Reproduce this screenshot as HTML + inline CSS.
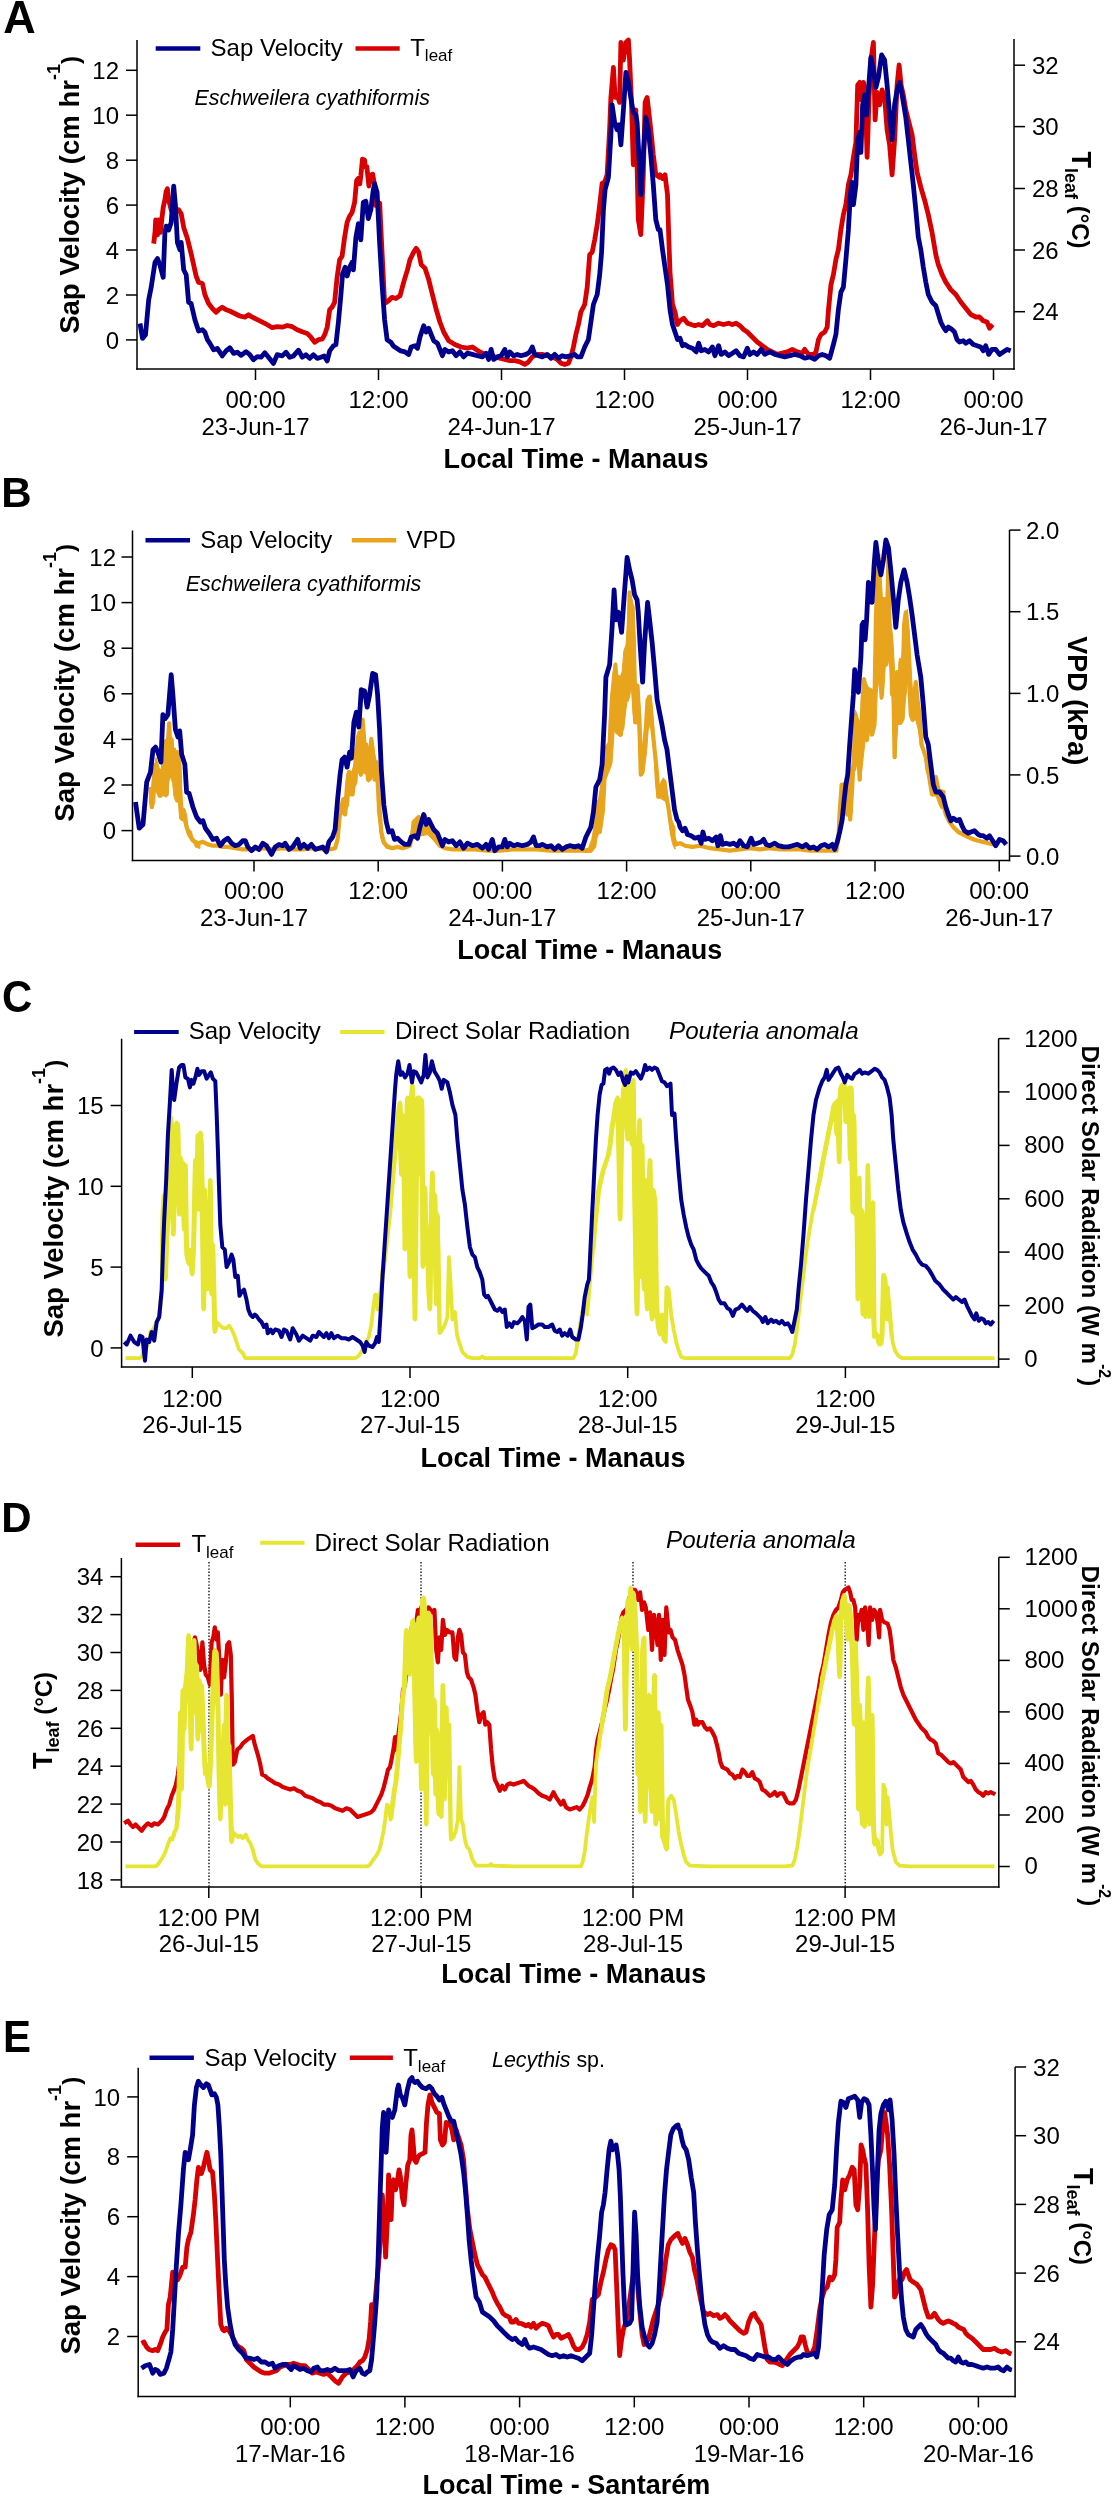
<!DOCTYPE html>
<html><head><meta charset="utf-8"><style>
html,body{margin:0;padding:0;background:#fff;}
svg{display:block;will-change:transform;}
text{font-family:"Liberation Sans", sans-serif;fill:#000;}
</style></head><body>
<svg width="1114" height="2500" viewBox="0 0 1114 2500">
<rect width="1114" height="2500" fill="#fff"/>
<text transform="translate(3.2,32.7) scale(1.07,1.08)" font-size="42" font-weight="bold">A</text>
<line x1="137" y1="40" x2="137" y2="369.75" stroke="#000" stroke-width="1.5"/>
<line x1="1014" y1="39" x2="1014" y2="369.75" stroke="#000" stroke-width="1.5"/>
<line x1="136.25" y1="369" x2="1014.75" y2="369" stroke="#000" stroke-width="1.5"/>
<line x1="126" y1="70.3" x2="137" y2="70.3" stroke="#000" stroke-width="1.5"/>
<text x="119" y="78.9" font-size="24" text-anchor="end">12</text>
<line x1="126" y1="115.2" x2="137" y2="115.2" stroke="#000" stroke-width="1.5"/>
<text x="119" y="123.8" font-size="24" text-anchor="end">10</text>
<line x1="126" y1="160.2" x2="137" y2="160.2" stroke="#000" stroke-width="1.5"/>
<text x="119" y="168.8" font-size="24" text-anchor="end">8</text>
<line x1="126" y1="205.1" x2="137" y2="205.1" stroke="#000" stroke-width="1.5"/>
<text x="119" y="213.7" font-size="24" text-anchor="end">6</text>
<line x1="126" y1="250" x2="137" y2="250" stroke="#000" stroke-width="1.5"/>
<text x="119" y="258.6" font-size="24" text-anchor="end">4</text>
<line x1="126" y1="295" x2="137" y2="295" stroke="#000" stroke-width="1.5"/>
<text x="119" y="303.6" font-size="24" text-anchor="end">2</text>
<line x1="126" y1="339.9" x2="137" y2="339.9" stroke="#000" stroke-width="1.5"/>
<text x="119" y="348.5" font-size="24" text-anchor="end">0</text>
<line x1="1014" y1="65.2" x2="1025" y2="65.2" stroke="#000" stroke-width="1.5"/>
<text x="1032" y="73.8" font-size="24">32</text>
<line x1="1014" y1="126.6" x2="1025" y2="126.6" stroke="#000" stroke-width="1.5"/>
<text x="1032" y="135.2" font-size="24">30</text>
<line x1="1014" y1="188.5" x2="1025" y2="188.5" stroke="#000" stroke-width="1.5"/>
<text x="1032" y="197.1" font-size="24">28</text>
<line x1="1014" y1="250" x2="1025" y2="250" stroke="#000" stroke-width="1.5"/>
<text x="1032" y="258.6" font-size="24">26</text>
<line x1="1014" y1="311.7" x2="1025" y2="311.7" stroke="#000" stroke-width="1.5"/>
<text x="1032" y="320.3" font-size="24">24</text>
<line x1="255.5" y1="369" x2="255.5" y2="380" stroke="#000" stroke-width="1.5"/>
<text x="255.5" y="408" font-size="24" text-anchor="middle">00:00</text>
<text x="255.5" y="435" font-size="24" text-anchor="middle">23-Jun-17</text>
<line x1="378.5" y1="369" x2="378.5" y2="380" stroke="#000" stroke-width="1.5"/>
<text x="378.5" y="408" font-size="24" text-anchor="middle">12:00</text>
<line x1="501.5" y1="369" x2="501.5" y2="380" stroke="#000" stroke-width="1.5"/>
<text x="501.5" y="408" font-size="24" text-anchor="middle">00:00</text>
<text x="501.5" y="435" font-size="24" text-anchor="middle">24-Jun-17</text>
<line x1="624.5" y1="369" x2="624.5" y2="380" stroke="#000" stroke-width="1.5"/>
<text x="624.5" y="408" font-size="24" text-anchor="middle">12:00</text>
<line x1="747.5" y1="369" x2="747.5" y2="380" stroke="#000" stroke-width="1.5"/>
<text x="747.5" y="408" font-size="24" text-anchor="middle">00:00</text>
<text x="747.5" y="435" font-size="24" text-anchor="middle">25-Jun-17</text>
<line x1="870.5" y1="369" x2="870.5" y2="380" stroke="#000" stroke-width="1.5"/>
<text x="870.5" y="408" font-size="24" text-anchor="middle">12:00</text>
<line x1="993.5" y1="369" x2="993.5" y2="380" stroke="#000" stroke-width="1.5"/>
<text x="993.5" y="408" font-size="24" text-anchor="middle">00:00</text>
<text x="993.5" y="435" font-size="24" text-anchor="middle">26-Jun-17</text>
<text x="576" y="468" font-size="27" font-weight="bold" text-anchor="middle">Local Time - Manaus</text>
<text transform="translate(78.9,333.8) rotate(-90)" font-size="27.5" font-weight="bold">Sap Velocity (cm hr<tspan dy="-18.8" font-size="18">-1</tspan><tspan dy="18.8" font-size="24">)</tspan></text>
<text transform="translate(1071.6,151.5) rotate(90)" font-size="27" font-weight="bold">T<tspan dy="6.7" font-size="18">leaf</tspan><tspan dy="-6.7" font-size="24"> (°C)</tspan></text>
<line x1="155.7" y1="48.5" x2="200.3" y2="48.5" stroke="#00008c" stroke-width="4.5"/>
<text x="210.6" y="56" font-size="24">Sap Velocity</text>
<line x1="355.5" y1="48.5" x2="399.7" y2="48.5" stroke="#d80000" stroke-width="4.5"/>
<text x="410.2" y="55.5" font-size="24">T<tspan dy="5.9" font-size="17">leaf</tspan></text>
<text x="194.5" y="104.5" font-size="21.4" font-style="italic">Eschweilera cyathiformis</text>
<polyline points="153.7,243.6 155.0,232.4 155.7,219.9 157.5,234.9 158.7,219.9 160.4,232.4 161.9,218.6 163.2,207.4 164.9,199.9 166.2,191.2 167.4,188.7 168.7,199.9 171.2,209.9 174.9,208.7 178.7,209.9 181.2,213.7 183.7,227.4 187.4,238.6 191.1,253.6 193.6,264.8 196.1,276.0 198.6,282.3 202.4,283.5 204.9,294.8 208.6,303.5 212.4,308.5 216.1,312.2 218.6,309.7 222.3,307.2 226.1,309.7 229.8,311.0 234.8,313.5 239.8,316.0 244.8,317.2 248.5,314.7 252.3,317.2 257.3,319.7 262.3,322.2 267.3,324.7 272.3,327.7 277.2,326.7 282.2,327.2 287.2,325.5 292.2,326.7 297.2,329.7 302.2,331.7 307.2,333.4 310.9,337.2 314.7,342.2 318.4,339.7 322.2,339.2 324.7,334.7 327.2,327.2 329.7,309.7 332.1,307.2 334.6,302.3 337.1,277.3 339.6,259.8 342.1,256.1 344.6,237.4 347.1,222.4 349.6,216.2 352.1,212.4 354.6,202.4 356.6,180.6 358.2,178.5 359.8,183.9 360.9,175.2 362.5,159.1 364.6,160.2 365.2,166.6 366.8,166.6 368.9,186.0 370.6,175.2 372.7,174.2 374.3,183.9 375.4,205.4 379.7,203.3 380.8,227.0 384.6,303.5 388.3,301.0 392.0,297.3 395.8,298.5 399.5,296.0 400.0,295.8 403.7,282.1 407.5,269.6 410.0,259.6 413.7,252.1 416.2,248.4 418.7,252.1 421.2,264.6 425.0,268.3 428.7,279.6 432.4,294.5 436.2,309.5 439.9,322.0 443.7,332.0 448.7,340.7 454.9,344.5 461.1,347.0 467.4,348.2 472.4,347.0 476.1,349.4 479.9,351.9 484.9,354.4 489.8,355.7 494.8,356.9 499.8,358.2 504.8,359.4 509.8,360.7 514.8,360.7 519.8,361.9 524.8,364.4 528.5,361.9 532.3,356.9 537.3,354.4 542.3,354.4 547.2,355.7 552.2,356.9 557.2,359.4 561.0,363.2 564.7,364.4 568.5,363.2 571.0,356.9 573.4,347.0 575.9,334.5 578.4,324.5 580.9,312.0 584.7,304.5 587.2,287.1 589.7,254.6 592.2,252.1 594.7,239.6 597.2,224.7 599.7,204.7 602.1,183.5 604.6,182.2 607.1,174.8 609.6,129.8 610.9,97.4 613.4,67.4 615.1,97.4 617.1,94.9 619.6,102.4 620.9,42.5 623.4,60.0 625.9,42.5 628.4,40.0 629.6,60.0 631.6,104.9 633.3,164.8 635.8,109.9 638.3,219.7 640.8,234.7 643.3,174.8 645.1,102.4 647.1,97.4 648.3,107.4 650.8,129.8 653.3,154.8 655.8,174.8 659.5,177.3 660.0,174.8 662.5,178.5 665.0,174.8 667.5,194.7 668.7,234.7 670.0,272.1 672.5,304.5 675.0,312.0 677.5,324.5 680.0,320.7 683.7,318.3 687.5,323.2 691.2,324.5 694.9,325.7 698.7,324.5 702.4,325.7 707.4,320.7 709.9,324.5 713.7,325.7 718.6,323.2 723.6,324.5 728.6,323.2 732.4,324.5 736.1,323.2 739.9,325.7 743.6,329.5 747.3,332.0 752.3,337.0 757.3,342.0 762.3,345.7 767.3,349.4 772.3,351.9 777.3,354.4 782.3,353.2 787.3,351.9 792.3,349.4 797.3,351.9 802.3,353.2 804.7,349.4 808.5,354.4 813.5,354.4 816.0,351.9 818.5,339.5 821.0,334.5 824.7,332.0 827.2,327.0 828.5,309.5 831.0,284.6 833.4,274.6 835.9,259.6 838.4,249.6 840.9,229.7 843.4,214.7 845.9,204.7 848.4,184.7 850.9,174.8 853.4,157.3 855.9,142.3 857.7,84.9 859.7,82.4 861.6,99.9 863.4,82.4 865.1,89.9 867.1,157.3 869.1,97.4 870.9,60.0 873.4,42.5 875.1,119.9 877.1,92.4 879.6,104.9 882.1,89.9 884.6,97.4 887.1,129.8 889.6,144.8 892.1,174.8 894.6,139.8 897.1,84.9 899.1,64.9 901.1,84.9 903.3,94.9 905.8,109.9 908.3,119.9 912.1,134.8 914.6,154.8 917.1,172.3 920.8,187.2 924.5,199.7 928.3,214.7 932.0,232.2 935.8,254.6 938.3,264.6 942.1,274.6 945.8,282.1 950.8,289.6 955.8,294.5 960.8,302.0 965.8,308.3 970.8,314.5 975.8,317.0 979.5,317.0 983.2,320.7 987.0,322.0 989.5,328.2 992.7,324.5" fill="none" stroke="#d80000" stroke-width="4.8" stroke-linejoin="round" stroke-linecap="butt"/>
<polyline points="140.0,323.5 142.5,338.4 145.5,334.7 148.7,299.8 151.2,287.3 155.0,262.3 157.5,258.6 159.9,264.8 163.2,277.3 164.9,232.4 166.2,226.1 168.7,229.9 171.2,222.4 173.7,186.2 175.4,204.9 177.4,242.4 179.9,249.8 181.2,242.4 183.7,269.8 186.2,274.8 188.6,302.3 191.1,303.5 194.9,319.7 198.6,331.0 202.4,329.7 204.9,332.2 207.4,339.7 209.9,343.4 213.6,349.7 217.3,348.4 222.3,355.9 226.1,350.9 229.8,347.7 233.6,353.4 237.3,352.2 241.1,355.4 246.0,351.7 249.8,354.7 253.5,359.7 257.3,356.7 261.0,357.2 264.8,352.7 268.5,357.2 273.5,363.4 277.2,354.7 282.2,355.9 286.0,352.2 289.7,357.2 293.5,355.9 298.5,350.2 302.2,357.2 305.9,354.7 309.7,358.4 313.4,354.7 317.2,358.4 320.9,357.2 324.2,355.9 327.2,360.9 329.7,350.9 333.4,345.9 335.9,344.7 338.4,322.2 340.9,294.8 342.6,273.6 345.1,267.3 347.1,276.0 349.6,267.3 352.1,262.3 353.4,269.8 355.9,237.4 358.4,223.6 360.8,239.9 363.3,202.4 365.8,201.2 368.3,218.6 370.8,209.9 373.3,189.9 374.6,183.7 377.1,192.4 379.6,242.4 382.1,284.8 384.6,319.7 387.1,339.7 390.8,342.2 393.3,345.9 397.0,348.4 400.8,350.9 405.0,351.9 408.7,354.4 411.2,347.0 415.0,345.7 417.5,348.2 420.0,337.0 423.7,325.7 426.2,332.0 428.7,328.2 431.2,334.5 433.7,340.7 437.4,343.2 439.9,349.4 442.4,355.7 444.9,349.4 448.7,351.9 452.4,350.7 456.2,355.7 459.9,351.9 463.6,356.9 467.4,353.2 472.4,354.4 477.4,355.7 482.4,356.9 486.1,353.2 488.6,359.4 491.1,349.4 493.6,359.4 497.3,356.9 501.1,355.7 504.8,349.4 507.3,356.9 509.8,351.9 513.6,355.7 517.3,354.4 521.0,355.7 526.0,354.4 529.8,351.9 532.3,347.0 534.8,354.4 538.5,355.7 542.3,356.9 547.2,354.4 551.0,358.2 554.7,354.4 558.5,358.2 562.2,355.7 566.0,356.9 571.0,355.7 574.7,354.4 577.2,356.9 580.9,356.9 584.7,347.0 588.4,339.5 590.9,322.0 593.4,304.5 597.2,294.5 599.7,274.6 601.6,252.1 603.4,209.7 605.1,189.7 608.4,177.3 610.9,134.8 612.1,104.9 614.6,122.3 617.1,129.8 619.1,124.8 620.9,144.8 623.4,109.9 625.9,72.4 628.4,82.4 630.8,97.4 633.3,112.4 635.8,114.9 637.1,122.3 639.1,159.8 640.8,194.7 643.3,154.8 645.8,117.4 648.3,129.8 650.8,154.8 653.3,184.7 655.8,219.7 658.3,229.7 660.0,229.7 662.5,249.6 665.0,267.1 667.5,284.6 670.0,309.5 672.5,324.5 675.0,332.0 677.5,339.5 680.0,338.2 682.5,345.7 685.0,344.5 688.7,347.0 692.4,348.2 696.2,351.9 698.7,343.2 701.2,350.7 704.9,349.4 708.7,351.9 712.4,347.0 714.9,355.7 718.6,345.7 721.1,354.4 724.9,351.9 728.6,355.7 732.4,353.2 736.1,350.7 739.9,355.7 743.6,356.9 747.3,348.2 749.8,354.4 753.6,351.9 757.3,354.4 761.1,349.4 764.8,354.4 769.8,351.9 774.8,354.4 779.8,355.7 784.8,356.9 789.8,355.7 794.8,354.4 799.8,355.7 804.7,358.2 809.7,356.9 814.7,359.4 818.5,355.7 822.2,354.4 826.0,355.7 829.7,358.2 833.4,344.5 835.9,334.5 838.4,309.5 840.9,292.1 843.4,287.1 845.9,259.6 848.4,229.7 850.2,197.2 851.7,182.2 853.4,204.7 855.9,184.7 857.7,139.8 859.7,132.3 860.9,152.3 862.6,104.9 864.6,94.9 866.6,114.9 868.4,89.9 870.9,57.5 873.4,69.9 875.9,87.4 878.4,77.4 881.6,55.0 884.6,60.0 887.1,84.9 889.6,114.9 892.1,139.8 894.6,104.9 897.1,89.9 899.6,82.4 902.1,94.9 905.8,117.4 908.3,139.8 910.8,162.3 913.3,184.7 915.8,209.7 918.3,237.1 920.8,249.6 923.3,267.1 925.8,282.1 928.3,294.5 932.0,302.0 935.8,305.8 940.8,322.0 943.3,327.0 945.8,330.7 948.3,327.0 952.0,329.5 954.5,332.0 957.0,339.5 959.5,342.0 963.3,340.7 965.8,343.2 969.5,340.7 973.3,344.5 977.0,345.7 980.7,347.0 983.2,350.7 985.7,345.7 988.7,354.4 992.0,349.4 995.7,349.4 999.5,354.4 1003.2,351.9 1007.0,349.4 1010.7,350.7" fill="none" stroke="#00008c" stroke-width="4.8" stroke-linejoin="round" stroke-linecap="butt"/>
<text transform="translate(1.3,507) scale(1.0,1.0)" font-size="42" font-weight="bold">B</text>
<line x1="132.5" y1="530.6" x2="132.5" y2="861.35" stroke="#000" stroke-width="1.5"/>
<line x1="1009.5" y1="530.1" x2="1009.5" y2="861.35" stroke="#000" stroke-width="1.5"/>
<line x1="131.75" y1="860.6" x2="1010.25" y2="860.6" stroke="#000" stroke-width="1.5"/>
<line x1="121.5" y1="557" x2="132.5" y2="557" stroke="#000" stroke-width="1.5"/>
<text x="116.0" y="565.6" font-size="24" text-anchor="end">12</text>
<line x1="121.5" y1="602.6" x2="132.5" y2="602.6" stroke="#000" stroke-width="1.5"/>
<text x="116.0" y="611.2" font-size="24" text-anchor="end">10</text>
<line x1="121.5" y1="648.2" x2="132.5" y2="648.2" stroke="#000" stroke-width="1.5"/>
<text x="116.0" y="656.8" font-size="24" text-anchor="end">8</text>
<line x1="121.5" y1="693.8" x2="132.5" y2="693.8" stroke="#000" stroke-width="1.5"/>
<text x="116.0" y="702.4" font-size="24" text-anchor="end">6</text>
<line x1="121.5" y1="739.4" x2="132.5" y2="739.4" stroke="#000" stroke-width="1.5"/>
<text x="116.0" y="748.0" font-size="24" text-anchor="end">4</text>
<line x1="121.5" y1="785" x2="132.5" y2="785" stroke="#000" stroke-width="1.5"/>
<text x="116.0" y="793.6" font-size="24" text-anchor="end">2</text>
<line x1="121.5" y1="830.6" x2="132.5" y2="830.6" stroke="#000" stroke-width="1.5"/>
<text x="116.0" y="839.2" font-size="24" text-anchor="end">0</text>
<line x1="1009.5" y1="530.1" x2="1020.5" y2="530.1" stroke="#000" stroke-width="1.5"/>
<text x="1026.0" y="538.7" font-size="24">2.0</text>
<line x1="1009.5" y1="611.7" x2="1020.5" y2="611.7" stroke="#000" stroke-width="1.5"/>
<text x="1026.0" y="620.3" font-size="24">1.5</text>
<line x1="1009.5" y1="693.4" x2="1020.5" y2="693.4" stroke="#000" stroke-width="1.5"/>
<text x="1026.0" y="702.0" font-size="24">1.0</text>
<line x1="1009.5" y1="774.9" x2="1020.5" y2="774.9" stroke="#000" stroke-width="1.5"/>
<text x="1026.0" y="783.5" font-size="24">0.5</text>
<line x1="1009.5" y1="856.1" x2="1020.5" y2="856.1" stroke="#000" stroke-width="1.5"/>
<text x="1026.0" y="864.7" font-size="24">0.0</text>
<line x1="254" y1="860.6" x2="254" y2="871.6" stroke="#000" stroke-width="1.5"/>
<text x="254" y="898.6" font-size="24" text-anchor="middle">00:00</text>
<text x="254" y="925.9" font-size="24" text-anchor="middle">23-Jun-17</text>
<line x1="378.2" y1="860.6" x2="378.2" y2="871.6" stroke="#000" stroke-width="1.5"/>
<text x="378.2" y="898.6" font-size="24" text-anchor="middle">12:00</text>
<line x1="502.4" y1="860.6" x2="502.4" y2="871.6" stroke="#000" stroke-width="1.5"/>
<text x="502.4" y="898.6" font-size="24" text-anchor="middle">00:00</text>
<text x="502.4" y="925.9" font-size="24" text-anchor="middle">24-Jun-17</text>
<line x1="626.6" y1="860.6" x2="626.6" y2="871.6" stroke="#000" stroke-width="1.5"/>
<text x="626.6" y="898.6" font-size="24" text-anchor="middle">12:00</text>
<line x1="750.8" y1="860.6" x2="750.8" y2="871.6" stroke="#000" stroke-width="1.5"/>
<text x="750.8" y="898.6" font-size="24" text-anchor="middle">00:00</text>
<text x="750.8" y="925.9" font-size="24" text-anchor="middle">25-Jun-17</text>
<line x1="875" y1="860.6" x2="875" y2="871.6" stroke="#000" stroke-width="1.5"/>
<text x="875" y="898.6" font-size="24" text-anchor="middle">12:00</text>
<line x1="999.2" y1="860.6" x2="999.2" y2="871.6" stroke="#000" stroke-width="1.5"/>
<text x="999.2" y="898.6" font-size="24" text-anchor="middle">00:00</text>
<text x="999.2" y="925.9" font-size="24" text-anchor="middle">26-Jun-17</text>
<text x="589.7" y="959" font-size="27" font-weight="bold" text-anchor="middle">Local Time - Manaus</text>
<text transform="translate(74.4,821.7) rotate(-90)" font-size="27.5" font-weight="bold">Sap Velocity (cm hr<tspan dy="-18.8" font-size="18">-1</tspan><tspan dy="18.8" font-size="24">)</tspan></text>
<text transform="translate(1068.2,636.2) rotate(90)" font-size="27" font-weight="bold">VPD (kPa)</text>
<line x1="145.5" y1="540.3" x2="190" y2="540.3" stroke="#00008c" stroke-width="4.5"/>
<text x="200.2" y="547.5" font-size="24">Sap Velocity</text>
<line x1="351.8" y1="540.3" x2="396.2" y2="540.3" stroke="#e8a41c" stroke-width="4.5"/>
<text x="406.4" y="547.5" font-size="24">VPD</text>
<text x="185.8" y="590.5" font-size="21.4" font-style="italic">Eschweilera cyathiformis</text>
<polygon points="149.6,788.3 151.8,786.4 152.8,772.3 154.7,767.2 156.0,757.6 159.2,767.8 161.1,770.4 164.3,741.0 165.6,739.0 167.5,738.4 168.8,723.7 170.1,725.6 171.4,741.0 173.3,744.8 174.6,770.4 176.5,773.6 177.4,752.5 179.0,756.3 181.0,764.0 181.6,783.2 182.2,807.5 184.8,808.8 186.7,815.2 188.0,828.0 189.3,829.3 191.2,831.2 193.1,837.6 195.7,840.8 200.0,842.7 200.0,848.5 195.7,847.2 192.5,840.8 190.6,834.4 187.4,833.1 186.1,824.8 185.4,819.7 182.2,821.0 179.7,819.0 178.4,802.4 175.8,801.8 173.9,796.0 172.6,783.2 171.4,779.4 170.1,776.8 168.8,781.9 168.2,792.8 166.2,797.3 164.3,796.0 162.4,796.0 161.8,776.8 160.5,796.0 158.6,797.3 156.6,792.8 155.4,789.6 154.7,802.4 152.8,808.8 150.9,807.5 149.6,802.4" fill="#e8a41c" stroke="#e8a41c" stroke-width="1" stroke-linejoin="round"/>
<polygon points="340.9,814.8 342.2,798.8 345.4,795.6 346.6,774.5 349.8,770.6 351.8,771.9 354.3,763.6 356.2,738.0 358.2,731.0 360.7,731.0 363.3,719.4 365.2,734.8 366.5,747.6 369.0,748.9 370.3,737.4 372.2,737.4 374.2,750.8 376.1,760.4 377.4,779.6 378.0,798.8 379.3,818.0 380.6,830.8 383.1,840.4 385.7,843.6 390.0,845.5 390.0,848.7 385.7,847.4 382.5,843.6 380.6,837.2 379.3,824.4 377.4,811.6 376.7,779.6 374.8,779.6 373.5,773.2 371.6,779.6 368.4,782.2 366.5,779.6 365.2,760.4 363.9,760.4 362.6,774.5 360.7,776.4 359.4,773.2 357.5,773.2 356.9,782.8 355.6,786.0 353.7,784.7 352.4,787.3 351.8,793.7 350.5,796.2 349.2,795.0 348.6,805.2 347.3,808.4 345.4,813.5 343.4,814.8 341.5,813.5" fill="#e8a41c" stroke="#e8a41c" stroke-width="1" stroke-linejoin="round"/>
<polygon points="411.2,832.0 413.7,820.7 417.5,817.0 421.2,818.2 425.0,814.5 428.7,822.0 432.4,828.2 436.2,839.4 439.9,845.7 439.9,848.2 432.4,839.4 427.5,834.5 422.5,835.7 417.5,835.7 413.7,839.4 411.2,843.2" fill="#e8a41c" stroke="#e8a41c" stroke-width="1" stroke-linejoin="round"/>
<polygon points="585.0,851.4 591.5,848.1 595.8,827.6 596.9,800.6 600.1,798.4 602.3,784.4 604.4,762.8 606.6,744.4 609.3,741.2 610.4,698.0 613.1,671.0 615.8,662.4 617.9,675.3 621.7,676.4 623.9,650.5 626.0,645.1 627.7,622.4 629.8,599.7 631.4,596.5 633.6,606.2 635.2,635.4 636.3,682.9 639.0,685.0 640.6,714.2 642.0,760.6 643.9,746.6 646.0,714.2 647.6,695.8 650.9,694.8 652.5,708.8 654.1,730.4 655.2,762.8 657.4,784.4 660.6,784.4 663.3,777.9 666.0,781.2 668.2,800.6 670.3,816.8 675.0,827.6 675.0,849.2 672.5,843.8 670.3,833.0 668.2,811.4 666.0,801.7 660.6,798.4 656.8,795.2 655.2,779.0 654.1,752.0 652.5,726.1 649.8,725.0 648.2,730.4 646.6,752.0 644.4,768.2 642.2,775.8 640.6,762.8 639.0,741.2 637.9,723.9 634.7,723.9 633.1,714.2 631.4,687.2 629.3,698.0 627.7,698.0 626.0,708.8 623.9,728.2 620.6,736.9 617.4,734.7 614.2,730.4 612.0,762.8 610.4,768.2 608.2,773.6 606.1,779.0 604.4,811.4 601.2,833.0 598.5,834.1 596.9,838.4 595.8,847.0 591.5,852.4 585.0,852.4" fill="#e8a41c" stroke="#e8a41c" stroke-width="1" stroke-linejoin="round"/>
<polygon points="837.6,852.3 840.1,815.2 842.7,783.2 846.5,780.6 849.1,770.4 852.9,764.0 855.5,710.2 859.3,721.8 861.9,716.6 863.8,677.0 868.3,687.2 873.4,689.8 874.7,655.2 876.0,604.0 877.2,581.0 879.8,554.1 882.4,597.6 886.2,597.6 887.5,552.8 888.8,584.8 890.0,616.8 892.6,636.0 895.2,680.8 897.7,719.2 899.0,661.6 901.6,660.3 904.1,623.2 907.3,609.1 909.2,629.6 911.8,680.8 913.7,706.4 915.6,680.8 918.2,700.0 920.1,738.4 923.3,744.8 925.9,770.4 929.7,783.2 934.8,789.6 937.4,790.9 941.2,789.6 945.0,790.9 945.0,803.7 941.2,808.8 938.7,803.7 936.1,796.0 932.3,796.0 929.7,787.0 927.2,770.4 923.3,749.9 920.8,747.4 918.2,729.4 915.6,719.2 913.1,721.8 910.5,700.0 908.0,678.2 905.4,700.0 904.1,719.2 901.6,724.3 899.0,724.3 897.7,725.6 895.8,757.6 893.9,732.0 892.0,693.6 890.0,668.0 887.5,657.8 885.6,661.6 883.6,693.6 881.1,700.0 878.5,680.8 877.2,693.6 876.0,725.6 873.4,735.8 871.5,732.0 869.6,725.6 867.0,742.2 865.1,741.0 863.2,757.6 860.6,780.6 858.0,757.6 855.5,770.4 852.9,770.4 851.6,783.2 852.3,812.6 849.7,816.5 846.5,808.8 844.0,802.4 840.1,828.0 837.6,852.3" fill="#e8a41c" stroke="#e8a41c" stroke-width="1" stroke-linejoin="round"/>
<polyline points="150.5,787.0 151.7,807.0 154.2,777.1 155.5,764.6 156.7,789.5 159.2,774.6 160.4,795.8 162.9,769.6 164.9,757.1 166.7,794.5 167.9,742.1 169.2,723.4 170.4,762.1 171.7,739.6 172.9,774.6 174.2,749.6 175.9,787.0 177.9,752.1 179.2,777.1 180.4,797.0 181.7,812.0 184.2,817.0 186.6,827.0 189.1,834.5 192.9,840.7 197.9,843.2 202.9,841.9 207.9,844.4 212.9,845.7 217.8,845.7 222.8,846.9 227.8,846.9 235.3,848.2 242.8,849.4 252.8,849.4 262.8,848.2 272.7,849.4 282.7,848.2 292.7,849.4 302.7,849.4 312.7,848.2 322.7,849.4 330.1,849.4 335.1,848.2 337.6,839.4 339.6,817.0 341.4,807.0 343.1,799.5 345.1,814.5 347.1,784.5 348.9,772.1 350.9,779.6 352.6,794.5 354.6,774.6 356.4,749.6 357.6,759.6 359.6,739.6 360.8,774.6 362.6,719.7 363.8,737.1 365.1,772.1 366.3,744.6 368.1,779.6 369.6,762.1 371.3,739.6 372.6,749.6 374.6,779.6 376.3,762.1 378.8,799.5 381.3,832.0 383.8,841.9 387.5,846.9 392.5,848.2 397.5,846.9 402.5,848.2 410.0,845.7 412.5,832.0 413.7,822.0 416.2,819.5 418.7,817.0 421.2,832.0 423.0,819.5 425.0,815.7 427.0,829.5 428.7,822.0 431.2,829.5 433.7,832.0 436.2,839.4 439.9,845.7 444.9,848.2 452.4,849.4 462.4,849.4 474.9,849.4 487.3,850.7 499.8,850.7 512.3,849.4 524.8,849.4 537.3,849.4 549.7,850.7 562.2,850.7 574.7,850.7 584.7,850.7 589.7,849.4 593.4,839.4 595.9,824.5 597.7,807.0 599.7,802.0 601.6,789.5 603.4,774.6 605.1,764.6 607.1,747.1 609.1,764.6 610.4,724.7 612.1,699.7 614.1,687.2 615.4,664.8 617.1,732.1 618.4,684.7 619.6,684.7 620.9,734.6 622.6,674.7 624.1,704.7 625.9,672.2 627.1,699.7 628.4,644.8 629.6,592.4 630.8,617.3 632.6,607.4 634.1,684.7 635.1,722.2 636.6,687.2 639.1,714.7 640.8,774.6 642.6,772.1 644.1,744.6 645.8,729.6 647.6,699.7 649.6,697.2 651.6,722.2 653.3,737.1 655.1,754.6 657.1,774.6 658.3,797.0 660.8,792.0 662.5,782.1 664.5,787.0 666.5,797.0 668.3,807.0 670.8,824.5 673.3,837.0 675.8,844.4 680.0,843.2 685.0,845.7 692.4,846.9 699.9,845.7 709.9,848.2 719.9,849.4 729.9,850.7 739.9,849.4 749.8,848.2 759.8,849.4 769.8,848.2 779.8,849.4 789.8,849.4 799.8,849.4 809.7,850.7 819.7,850.7 829.7,850.7 835.9,850.7 838.4,839.4 839.7,812.0 841.7,784.5 843.4,799.5 845.2,807.0 847.2,814.5 849.2,807.0 850.2,819.5 852.2,787.0 854.2,749.6 855.4,714.7 857.2,732.1 859.7,779.6 860.9,742.1 862.6,699.7 864.1,679.7 865.9,707.2 867.1,739.6 868.4,692.2 870.1,694.7 871.6,734.6 872.9,692.2 874.6,697.2 875.9,619.8 877.1,584.9 878.6,564.9 880.1,654.8 881.6,697.2 882.9,604.9 884.1,599.9 885.9,664.8 887.1,627.3 888.4,557.4 889.6,632.3 890.8,642.3 892.1,694.7 893.3,682.2 894.6,757.1 895.8,699.7 897.1,672.2 899.1,719.7 900.8,659.8 902.6,694.7 904.1,624.8 905.8,612.3 907.6,644.8 909.1,679.7 910.8,714.7 912.6,719.7 914.1,697.2 915.8,682.2 917.5,699.7 919.5,714.7 921.5,744.6 923.3,749.6 925.8,757.1 928.3,769.6 930.0,782.1 932.0,794.5 934.0,784.5 935.8,777.1 938.3,789.5 940.8,797.0 943.3,804.5 945.8,814.5 949.6,822.0 953.3,827.0 958.3,832.0 963.3,834.5 968.3,837.0 973.3,839.4 978.3,840.7 983.2,841.9 988.2,843.2 993.2,844.4" fill="none" stroke="#e8a41c" stroke-width="4.2" stroke-linejoin="round" stroke-linecap="butt"/>
<polyline points="135.5,802.0 139.2,828.2 143.0,824.5 146.7,782.1 150.5,772.1 153.0,749.6 155.5,747.1 157.9,752.1 160.9,762.1 162.9,714.7 165.4,718.4 167.9,714.7 171.2,674.7 172.9,694.7 175.4,729.6 177.9,737.1 179.7,730.9 181.7,754.6 184.9,764.6 186.6,792.0 189.1,793.3 192.9,807.0 196.6,817.0 200.4,822.0 202.9,820.7 205.4,828.2 209.1,833.2 212.9,839.4 216.6,838.2 220.3,845.7 224.1,840.7 227.8,838.2 231.6,843.2 235.3,845.7 239.1,844.4 242.8,840.7 245.3,840.7 247.8,846.9 251.5,850.7 255.3,846.9 259.0,849.4 262.8,843.2 266.5,845.7 271.5,854.4 275.2,846.9 279.0,844.4 282.7,845.7 285.2,843.2 289.0,849.4 292.7,846.9 297.7,839.4 300.2,848.2 303.9,844.4 307.7,848.2 311.4,844.4 315.2,849.4 318.9,848.2 322.7,846.9 326.4,851.9 328.9,841.9 332.6,837.0 335.1,829.5 337.6,799.5 340.1,774.6 342.1,759.6 344.6,757.1 347.1,767.1 349.6,752.1 351.4,758.3 353.9,722.2 356.4,712.2 358.8,727.1 361.3,689.7 364.6,691.0 367.1,707.2 369.6,694.7 372.6,673.5 375.6,674.7 377.6,694.7 379.6,729.6 381.3,769.6 383.8,804.5 386.3,822.0 388.8,832.0 392.0,830.7 394.5,839.4 397.5,838.2 401.3,841.9 405.0,844.4 408.7,844.4 411.2,837.0 415.0,835.7 417.5,838.2 420.0,827.0 423.7,814.5 426.2,824.5 428.7,819.5 431.2,824.5 433.7,829.5 437.4,833.2 439.9,839.4 442.4,845.7 444.9,839.4 448.7,841.9 452.4,840.7 456.2,845.7 459.9,841.9 463.6,848.2 467.4,843.2 472.4,845.7 477.4,844.4 482.4,848.2 486.1,844.4 488.6,849.4 492.3,839.4 494.8,850.7 498.6,846.9 502.3,846.9 504.8,839.4 507.3,846.9 509.8,843.2 513.6,845.7 517.3,844.4 522.3,845.7 527.3,844.4 531.0,841.9 533.5,837.0 536.0,845.7 539.8,845.7 542.3,844.4 547.2,846.9 551.0,845.7 554.7,849.4 558.5,845.7 562.2,849.4 566.0,846.9 569.7,845.7 574.7,846.9 578.4,845.7 582.2,848.2 585.9,837.0 590.9,827.0 593.4,812.0 595.9,787.0 599.7,779.6 602.1,764.6 604.6,714.7 605.9,677.2 609.6,664.8 612.1,627.3 614.1,589.9 615.9,619.8 618.4,612.3 619.6,619.8 621.6,632.3 624.1,597.4 627.1,557.4 629.6,569.9 632.1,579.9 634.6,594.9 637.1,599.9 638.3,612.3 640.1,644.8 642.6,682.2 644.6,642.3 647.6,602.4 649.6,619.8 652.1,642.3 654.6,669.7 657.1,699.7 659.5,712.2 662.0,724.7 664.5,739.6 667.0,749.6 669.5,769.6 672.0,789.5 674.5,809.5 677.0,819.5 678.7,822.0 680.0,827.0 682.5,830.7 685.0,828.2 687.5,834.5 691.2,835.7 694.9,838.2 698.7,837.0 701.2,843.2 702.9,832.0 704.9,839.4 708.7,838.2 712.4,840.7 716.2,837.0 717.9,845.7 720.4,835.7 722.4,844.4 726.1,843.2 729.9,844.4 733.6,843.2 737.4,845.7 739.9,840.7 743.6,845.7 747.3,846.9 751.1,838.2 753.6,844.4 757.3,843.2 761.1,841.9 763.6,839.4 766.1,844.4 769.8,845.7 774.8,843.2 778.5,845.7 783.5,846.9 788.5,846.9 792.3,845.7 797.3,844.4 802.3,846.9 806.0,844.4 809.7,848.2 813.5,846.9 817.2,849.4 821.0,845.7 824.7,844.4 828.5,846.9 832.2,844.4 834.7,849.4 837.2,841.9 839.7,832.0 842.2,819.5 844.2,799.5 845.9,784.5 847.7,774.6 849.7,744.6 851.7,717.2 853.4,694.7 854.7,669.7 856.7,684.7 858.4,692.2 860.9,657.3 862.1,624.8 863.4,622.3 865.1,639.8 866.6,619.8 868.4,582.4 870.4,584.9 872.1,602.4 874.1,564.9 875.9,542.5 878.4,562.4 880.9,574.9 883.4,559.9 885.9,540.0 888.4,547.5 890.8,569.9 893.3,597.4 895.8,627.3 898.3,599.9 900.8,582.4 904.1,569.9 907.1,582.4 909.6,597.4 912.1,614.8 914.6,634.8 917.1,654.8 920.8,677.2 923.3,704.7 925.8,737.1 928.3,744.6 930.8,764.6 933.3,784.5 935.8,792.0 939.6,792.0 943.3,797.0 945.8,807.0 948.3,814.5 950.8,820.7 953.3,818.2 957.0,820.7 959.5,819.5 962.0,825.7 964.5,830.7 968.3,833.2 970.8,832.0 974.5,830.7 978.3,834.5 980.7,835.7 983.2,835.7 987.0,838.2 989.5,835.7 992.7,840.7 995.7,845.7 999.5,839.4 1003.2,840.7 1006.2,844.4" fill="none" stroke="#00008c" stroke-width="4.8" stroke-linejoin="round" stroke-linecap="butt"/>
<text transform="translate(2,1012) scale(1.0,1.06)" font-size="42" font-weight="bold">C</text>
<line x1="121.6" y1="1038.7" x2="121.6" y2="1367.75" stroke="#000" stroke-width="1.5"/>
<line x1="998.6" y1="1038.6" x2="998.6" y2="1367.75" stroke="#000" stroke-width="1.5"/>
<line x1="120.85" y1="1367" x2="999.35" y2="1367" stroke="#000" stroke-width="1.5"/>
<line x1="110.6" y1="1105.5" x2="121.6" y2="1105.5" stroke="#000" stroke-width="1.5"/>
<text x="103.6" y="1114.1" font-size="24" text-anchor="end">15</text>
<line x1="110.6" y1="1186.3" x2="121.6" y2="1186.3" stroke="#000" stroke-width="1.5"/>
<text x="103.6" y="1194.9" font-size="24" text-anchor="end">10</text>
<line x1="110.6" y1="1267.1" x2="121.6" y2="1267.1" stroke="#000" stroke-width="1.5"/>
<text x="103.6" y="1275.7" font-size="24" text-anchor="end">5</text>
<line x1="110.6" y1="1347.9" x2="121.6" y2="1347.9" stroke="#000" stroke-width="1.5"/>
<text x="103.6" y="1356.5" font-size="24" text-anchor="end">0</text>
<line x1="998.6" y1="1038.6" x2="1009.6" y2="1038.6" stroke="#000" stroke-width="1.5"/>
<text x="1024.2" y="1046.5" font-size="24">1200</text>
<line x1="998.6" y1="1091.9" x2="1009.6" y2="1091.9" stroke="#000" stroke-width="1.5"/>
<text x="1024.2" y="1099.8" font-size="24">1000</text>
<line x1="998.6" y1="1145.4" x2="1009.6" y2="1145.4" stroke="#000" stroke-width="1.5"/>
<text x="1024.2" y="1153.3" font-size="24">800</text>
<line x1="998.6" y1="1198.8" x2="1009.6" y2="1198.8" stroke="#000" stroke-width="1.5"/>
<text x="1024.2" y="1206.7" font-size="24">600</text>
<line x1="998.6" y1="1252.1" x2="1009.6" y2="1252.1" stroke="#000" stroke-width="1.5"/>
<text x="1024.2" y="1260.0" font-size="24">400</text>
<line x1="998.6" y1="1305.6" x2="1009.6" y2="1305.6" stroke="#000" stroke-width="1.5"/>
<text x="1024.2" y="1313.5" font-size="24">200</text>
<line x1="998.6" y1="1359.1" x2="1009.6" y2="1359.1" stroke="#000" stroke-width="1.5"/>
<text x="1024.2" y="1367.0" font-size="24">0</text>
<line x1="192.3" y1="1367" x2="192.3" y2="1378" stroke="#000" stroke-width="1.5"/>
<text x="192.3" y="1406.7" font-size="24" text-anchor="middle">12:00</text>
<text x="192.3" y="1433.3" font-size="24" text-anchor="middle">26-Jul-15</text>
<line x1="410" y1="1367" x2="410" y2="1378" stroke="#000" stroke-width="1.5"/>
<text x="410" y="1406.7" font-size="24" text-anchor="middle">12:00</text>
<text x="410" y="1433.3" font-size="24" text-anchor="middle">27-Jul-15</text>
<line x1="627.7" y1="1367" x2="627.7" y2="1378" stroke="#000" stroke-width="1.5"/>
<text x="627.7" y="1406.7" font-size="24" text-anchor="middle">12:00</text>
<text x="627.7" y="1433.3" font-size="24" text-anchor="middle">28-Jul-15</text>
<line x1="845.4" y1="1367" x2="845.4" y2="1378" stroke="#000" stroke-width="1.5"/>
<text x="845.4" y="1406.7" font-size="24" text-anchor="middle">12:00</text>
<text x="845.4" y="1433.3" font-size="24" text-anchor="middle">29-Jul-15</text>
<text x="553" y="1466.9" font-size="27" font-weight="bold" text-anchor="middle">Local Time - Manaus</text>
<text transform="translate(63.3,1337.6) rotate(-90)" font-size="27.5" font-weight="bold">Sap Velocity (cm hr<tspan dy="-18.8" font-size="18">-1</tspan><tspan dy="18.8" font-size="24">)</tspan></text>
<text transform="translate(1082.3,1045.5) rotate(90)" font-size="24.2" font-weight="bold">Direct Solar Radiation (W m<tspan dy="-17" font-size="16">-2</tspan><tspan dy="17" font-size="24.2">)</tspan></text>
<line x1="134.1" y1="1032" x2="178.7" y2="1032" stroke="#00008c" stroke-width="4"/>
<text x="188.7" y="1039.1" font-size="24">Sap Velocity</text>
<line x1="340.2" y1="1032" x2="384.6" y2="1032" stroke="#e6e632" stroke-width="4"/>
<text x="394.9" y="1039.1" font-size="24.2">Direct Solar Radiation</text>
<text x="669" y="1039.1" font-size="24.2" font-style="italic">Pouteria anomala</text>
<polygon points="160.0,1240.3 160.5,1213.7 161.0,1205.5 161.5,1197.8 162.0,1194.7 162.5,1194.7 163.0,1194.7 163.5,1194.7 164.0,1194.7 164.5,1194.7 165.0,1194.7 165.5,1194.7 166.0,1194.7 166.5,1190.0 167.0,1176.4 167.5,1160.7 168.0,1137.0 168.5,1117.4 169.0,1117.4 169.5,1117.4 170.0,1117.4 170.5,1117.4 171.0,1117.4 171.5,1117.4 172.0,1117.4 172.5,1117.4 173.0,1117.4 173.5,1120.4 174.0,1124.9 174.5,1122.4 175.0,1122.4 175.5,1122.4 176.0,1122.4 176.5,1122.4 177.0,1122.4 177.5,1122.4 178.0,1122.4 178.5,1122.4 179.0,1122.4 179.5,1123.6 180.0,1124.2 180.5,1132.9 181.0,1157.3 181.5,1157.3 182.0,1157.3 182.5,1157.3 183.0,1159.3 183.5,1162.3 184.0,1162.3 184.5,1162.3 185.0,1162.3 185.5,1164.8 186.0,1164.8 186.5,1164.8 187.0,1164.8 187.5,1164.8 188.0,1173.3 188.5,1209.5 189.0,1245.6 189.5,1249.6 190.0,1249.6 190.5,1249.6 191.0,1249.6 191.5,1228.1 192.0,1203.5 192.5,1178.4 193.0,1159.8 193.5,1159.8 194.0,1159.8 194.5,1159.8 195.0,1156.9 195.5,1134.8 196.0,1134.8 196.5,1134.8 197.0,1134.8 197.5,1134.8 198.0,1132.3 198.5,1132.3 199.0,1132.3 199.5,1132.3 200.0,1132.3 200.5,1132.3 201.0,1132.3 201.5,1132.3 202.0,1132.3 202.5,1132.3 203.0,1134.4 203.5,1140.1 204.0,1146.3 204.5,1183.0 205.0,1189.7 205.5,1189.7 206.0,1189.7 206.5,1189.7 207.0,1189.7 207.5,1202.3 208.0,1179.8 208.5,1179.8 209.0,1179.8 209.5,1179.8 210.0,1179.8 210.5,1179.8 211.0,1179.8 211.5,1179.8 212.0,1179.8 212.5,1179.8 213.0,1194.8 213.5,1240.9 214.0,1244.6 214.5,1244.6 215.0,1244.6 215.5,1252.2 216.0,1274.3 216.5,1295.8 217.0,1317.9 217.5,1322.0 218.0,1322.0 218.5,1322.0 219.0,1322.0 219.5,1322.6 220.0,1323.3 220.0,1327.3 219.5,1327.0 219.0,1326.4 218.5,1326.4 218.0,1327.8 217.5,1330.9 217.0,1332.0 216.5,1332.0 216.0,1332.0 215.5,1332.0 215.0,1332.0 214.5,1332.0 214.0,1332.0 213.5,1332.0 213.0,1332.0 212.5,1332.0 212.0,1317.4 211.5,1295.3 211.0,1294.6 210.5,1294.6 210.0,1294.6 209.5,1294.6 209.0,1289.6 208.5,1289.6 208.0,1289.6 207.5,1289.6 207.0,1289.6 206.5,1289.6 206.0,1309.5 205.5,1309.5 205.0,1309.5 204.5,1309.5 204.0,1309.5 203.5,1309.5 203.0,1309.5 202.5,1309.5 202.0,1309.5 201.5,1309.5 201.0,1301.5 200.5,1263.9 200.0,1225.7 199.5,1209.7 199.0,1209.7 198.5,1209.7 198.0,1209.7 197.5,1209.7 197.0,1209.7 196.5,1227.6 196.0,1249.2 195.5,1258.3 195.0,1267.5 194.5,1274.6 194.0,1274.6 193.5,1274.6 193.0,1274.6 192.5,1274.6 192.0,1274.6 191.5,1274.6 191.0,1274.6 190.5,1274.6 190.0,1274.6 189.5,1272.6 189.0,1265.4 188.5,1264.6 188.0,1264.6 187.5,1264.6 187.0,1264.6 186.5,1264.1 186.0,1262.0 185.5,1259.9 185.0,1257.8 184.5,1255.7 184.0,1245.1 183.5,1229.7 183.0,1229.7 182.5,1229.7 182.0,1229.7 181.5,1222.1 181.0,1214.7 180.5,1214.7 180.0,1214.7 179.5,1214.7 179.0,1214.7 178.5,1214.7 178.0,1214.7 177.5,1214.7 177.0,1214.7 176.5,1204.2 176.0,1229.1 175.5,1234.7 175.0,1234.7 174.5,1234.7 174.0,1234.7 173.5,1234.7 173.0,1234.7 172.5,1234.7 172.0,1234.7 171.5,1234.7 171.0,1234.7 170.5,1217.2 170.0,1225.8 169.5,1234.0 169.0,1244.7 168.5,1260.9 168.0,1276.5 167.5,1279.6 167.0,1279.6 166.5,1279.6 166.0,1279.6 165.5,1279.6 165.0,1279.6 164.5,1279.6 164.0,1291.1 163.5,1296.2 163.0,1301.3 162.5,1305.9 162.0,1311.0 161.5,1315.1 161.0,1316.7 160.5,1319.0 160.0,1320.1" fill="#e6e632" fill-opacity="1.0" stroke="none"/>
<polygon points="380.0,1275.1 380.5,1271.0 381.0,1266.9 381.5,1263.3 382.0,1259.2 382.5,1255.1 383.0,1250.5 383.5,1245.9 384.0,1241.9 384.5,1237.3 385.0,1232.7 385.5,1228.1 386.0,1223.5 386.5,1219.4 387.0,1214.8 387.5,1210.2 388.0,1204.1 388.5,1198.0 389.0,1192.4 389.5,1186.4 390.0,1180.3 390.5,1174.7 391.0,1169.1 391.5,1163.5 392.0,1158.4 392.5,1152.8 393.0,1147.6 393.5,1142.4 394.0,1136.8 394.5,1130.7 395.0,1124.5 395.5,1117.9 396.0,1113.3 396.5,1109.7 397.0,1106.0 397.5,1102.4 398.0,1102.4 398.5,1102.4 399.0,1102.4 399.5,1102.4 400.0,1102.4 400.5,1102.4 401.0,1102.4 401.5,1102.4 402.0,1102.4 402.5,1103.9 403.0,1114.9 403.5,1114.9 404.0,1114.9 404.5,1113.6 405.0,1097.4 405.5,1097.4 406.0,1097.4 406.5,1097.4 407.0,1097.4 407.5,1097.4 408.0,1097.4 408.5,1097.4 409.0,1096.8 409.5,1090.6 410.0,1084.9 410.5,1084.9 411.0,1084.9 411.5,1084.9 412.0,1084.9 412.5,1084.9 413.0,1084.9 413.5,1084.9 414.0,1084.9 414.5,1084.9 415.0,1089.4 415.5,1097.4 416.0,1097.4 416.5,1097.4 417.0,1097.4 417.5,1097.4 418.0,1097.4 418.5,1097.4 419.0,1097.4 419.5,1097.4 420.0,1097.4 420.5,1097.4 421.0,1097.4 421.5,1097.4 422.0,1099.9 422.5,1099.9 423.0,1099.9 423.5,1099.9 424.0,1099.9 424.5,1109.4 425.0,1187.2 425.5,1187.2 426.0,1187.2 426.5,1187.2 427.0,1187.2 427.5,1191.3 428.0,1219.9 428.5,1228.2 429.0,1204.1 429.5,1186.9 430.0,1172.3 430.5,1172.3 431.0,1172.3 431.5,1172.3 432.0,1172.3 432.5,1172.3 433.0,1172.3 433.5,1172.3 434.0,1172.3 434.5,1172.3 435.0,1177.8 435.5,1194.7 436.0,1194.7 436.5,1194.7 437.0,1194.7 437.5,1201.7 438.0,1214.7 438.5,1214.7 439.0,1214.7 439.5,1214.7 440.0,1217.2 440.0,1333.2 439.5,1333.2 439.0,1333.2 438.5,1333.2 438.0,1333.2 437.5,1333.2 437.0,1306.2 436.5,1304.5 436.0,1304.5 435.5,1304.5 435.0,1304.5 434.5,1304.5 434.0,1304.5 433.5,1289.5 433.0,1265.9 432.5,1304.0 432.0,1309.5 431.5,1309.5 431.0,1309.5 430.5,1309.5 430.0,1309.5 429.5,1309.5 429.0,1309.5 428.5,1309.5 428.0,1309.5 427.5,1309.5 427.0,1302.4 426.5,1294.2 426.0,1282.0 425.5,1264.6 425.0,1267.1 424.5,1267.1 424.0,1267.1 423.5,1267.1 423.0,1267.1 422.5,1267.1 422.0,1267.1 421.5,1267.1 421.0,1267.1 420.5,1267.1 420.0,1192.5 419.5,1174.8 419.0,1174.8 418.5,1210.8 418.0,1262.9 417.5,1314.5 417.0,1319.5 416.5,1319.5 416.0,1319.5 415.5,1319.5 415.0,1319.5 414.5,1319.5 414.0,1319.5 413.5,1319.5 413.0,1319.5 412.5,1319.5 412.0,1280.9 411.5,1277.1 411.0,1277.1 410.5,1277.1 410.0,1277.1 409.5,1277.1 409.0,1277.1 408.5,1277.1 408.0,1277.1 407.5,1277.1 407.0,1249.6 406.5,1249.6 406.0,1249.6 405.5,1249.6 405.0,1249.6 404.5,1249.6 404.0,1249.6 403.5,1249.6 403.0,1249.6 402.5,1249.6 402.0,1199.0 401.5,1174.8 401.0,1174.8 400.5,1174.8 400.0,1174.8 399.5,1174.8 399.0,1174.8 398.5,1161.2 398.0,1147.1 397.5,1152.3 397.0,1157.9 396.5,1163.0 396.0,1168.6 395.5,1174.2 395.0,1179.8 394.5,1185.8 394.0,1191.9 393.5,1197.5 393.0,1203.6 392.5,1209.7 392.0,1214.3 391.5,1218.9 391.0,1223.0 390.5,1227.6 390.0,1232.2 389.5,1236.8 389.0,1241.4 388.5,1245.4 388.0,1250.0 387.5,1254.6 387.0,1258.7 386.5,1262.8 386.0,1266.4 385.5,1270.5 385.0,1274.6 384.5,1278.7 384.0,1282.8 383.5,1286.9 383.0,1290.5 382.5,1294.6 382.0,1297.7 381.5,1300.8 381.0,1303.3 380.5,1306.4 380.0,1309.5" fill="#e6e632" fill-opacity="1.0" stroke="none"/>
<polygon points="595.0,1201.5 595.5,1196.3 596.0,1191.7 596.5,1189.6 597.0,1187.0 597.5,1184.4 598.0,1181.8 598.5,1179.8 599.0,1177.7 599.5,1175.6 600.0,1173.5 600.5,1171.3 601.0,1169.8 601.5,1168.2 602.0,1166.6 602.5,1165.0 603.0,1163.9 603.5,1162.3 604.0,1160.7 604.5,1159.1 605.0,1157.5 605.5,1156.4 606.0,1154.3 606.5,1151.6 607.0,1148.5 607.5,1145.9 608.0,1141.7 608.5,1137.1 609.0,1133.0 609.5,1128.4 610.0,1125.3 610.5,1122.1 611.0,1119.0 611.5,1115.9 612.0,1112.3 612.5,1108.6 613.0,1105.0 613.5,1102.4 614.0,1100.7 614.5,1099.6 615.0,1098.0 615.5,1097.4 616.0,1097.4 616.5,1097.4 617.0,1097.4 617.5,1097.4 618.0,1097.4 618.5,1097.4 619.0,1097.4 619.5,1097.4 620.0,1097.4 620.5,1100.0 621.0,1089.4 621.5,1087.7 622.0,1085.5 622.5,1080.3 623.0,1074.1 623.5,1069.9 624.0,1069.9 624.5,1069.9 625.0,1069.9 625.5,1069.9 626.0,1069.9 626.5,1069.9 627.0,1069.9 627.5,1069.9 628.0,1069.9 628.5,1080.0 629.0,1084.9 629.5,1084.9 630.0,1084.9 630.5,1084.9 631.0,1079.9 631.5,1079.9 632.0,1079.9 632.5,1079.9 633.0,1079.9 633.5,1079.9 634.0,1079.9 634.5,1079.9 635.0,1079.9 635.5,1079.9 636.0,1095.5 636.5,1139.6 637.0,1124.9 637.5,1119.9 638.0,1119.9 638.5,1119.9 639.0,1119.9 639.5,1119.9 640.0,1119.9 640.5,1119.9 641.0,1119.9 641.5,1119.9 642.0,1119.9 642.5,1144.8 643.0,1144.8 643.5,1144.8 644.0,1144.8 644.5,1144.8 645.0,1176.9 645.5,1179.8 646.0,1179.8 646.5,1179.8 647.0,1175.4 647.5,1161.3 648.0,1159.8 648.5,1159.8 649.0,1159.8 649.5,1159.8 650.0,1159.8 650.5,1159.8 651.0,1159.8 651.5,1159.8 652.0,1159.8 652.5,1159.8 653.0,1189.7 653.5,1189.7 654.0,1189.7 654.5,1189.7 655.0,1189.7 655.5,1189.7 656.0,1191.3 656.5,1194.9 657.0,1198.6 657.5,1202.2 658.0,1234.3 658.5,1268.4 659.0,1302.5 659.5,1310.7 660.0,1314.5 660.5,1314.5 661.0,1314.5 661.5,1314.5 662.0,1314.5 662.5,1314.5 663.0,1314.5 663.5,1314.5 664.0,1309.2 664.5,1287.1 665.0,1287.1 665.0,1342.0 664.5,1342.0 664.0,1342.0 663.5,1342.0 663.0,1341.3 662.5,1340.7 662.0,1340.1 661.5,1339.0 661.0,1334.5 660.5,1334.5 660.0,1334.5 659.5,1334.5 659.0,1334.5 658.5,1334.5 658.0,1334.5 657.5,1333.9 657.0,1331.8 656.5,1329.7 656.0,1327.5 655.5,1322.9 655.0,1316.8 654.5,1319.5 654.0,1319.5 653.5,1319.5 653.0,1319.5 652.5,1319.5 652.0,1319.5 651.5,1319.5 651.0,1319.5 650.5,1319.5 650.0,1319.5 649.5,1316.0 649.0,1309.5 648.5,1309.5 648.0,1309.5 647.5,1309.5 647.0,1309.5 646.5,1309.5 646.0,1309.5 645.5,1309.5 645.0,1309.5 644.5,1304.0 644.0,1289.6 643.5,1289.6 643.0,1289.6 642.5,1289.6 642.0,1289.6 641.5,1285.1 641.0,1277.1 640.5,1277.1 640.0,1279.9 639.5,1314.5 639.0,1314.5 638.5,1314.5 638.0,1314.5 637.5,1314.5 637.0,1314.5 636.5,1314.5 636.0,1314.5 635.5,1314.5 635.0,1314.5 634.5,1311.5 634.0,1291.3 633.5,1271.7 633.0,1245.0 632.5,1215.4 632.0,1183.2 631.5,1144.8 631.0,1144.8 630.5,1144.8 630.0,1144.8 629.5,1142.8 629.0,1139.8 628.5,1139.8 628.0,1139.8 627.5,1139.8 627.0,1139.8 626.5,1139.8 626.0,1139.8 625.5,1139.8 625.0,1132.7 624.5,1128.2 624.0,1144.8 623.5,1171.5 623.0,1198.1 622.5,1219.7 622.0,1219.7 621.5,1219.7 621.0,1219.7 620.5,1219.7 620.0,1219.7 619.5,1219.7 619.0,1219.7 618.5,1219.7 618.0,1219.7 617.5,1214.1 617.0,1186.4 616.5,1160.3 616.0,1137.6 615.5,1121.6 615.0,1124.7 614.5,1127.9 614.0,1132.5 613.5,1136.6 613.0,1141.2 612.5,1145.3 612.0,1148.0 611.5,1151.1 611.0,1153.7 610.5,1155.9 610.0,1156.9 609.5,1158.5 609.0,1160.1 608.5,1161.8 608.0,1163.4 607.5,1164.4 607.0,1166.0 606.5,1167.6 606.0,1169.2 605.5,1170.8 605.0,1172.9 604.5,1175.0 604.0,1177.1 603.5,1179.2 603.0,1181.3 602.5,1183.9 602.0,1186.5 601.5,1189.1 601.0,1191.2 600.5,1195.8 600.0,1201.0 599.5,1205.6 599.0,1210.7 598.5,1214.8 598.0,1219.5 597.5,1223.6 597.0,1228.7 596.5,1235.9 596.0,1243.1 595.5,1248.7 595.0,1254.4" fill="#e6e632" fill-opacity="1.0" stroke="none"/>
<polygon points="815.0,1188.7 815.5,1187.1 816.0,1185.0 816.5,1182.9 817.0,1180.8 817.5,1178.2 818.0,1175.1 818.5,1172.5 819.0,1169.4 819.5,1166.3 820.0,1163.7 820.5,1161.1 821.0,1158.5 821.5,1155.9 822.0,1153.9 822.5,1151.3 823.0,1148.7 823.5,1146.1 824.0,1143.5 824.5,1140.9 825.0,1138.8 825.5,1136.2 826.0,1133.6 826.5,1131.0 827.0,1128.4 827.5,1126.3 828.0,1123.7 828.5,1121.1 829.0,1118.5 829.5,1115.9 830.0,1113.3 830.5,1110.7 831.0,1107.5 831.5,1104.9 832.0,1104.3 832.5,1103.6 833.0,1102.4 833.5,1102.4 834.0,1102.4 834.5,1102.4 835.0,1102.4 835.5,1099.9 836.0,1099.9 836.5,1099.9 837.0,1099.9 837.5,1099.9 838.0,1089.4 838.5,1087.7 839.0,1086.0 839.5,1084.9 840.0,1084.9 840.5,1084.9 841.0,1084.9 841.5,1084.7 842.0,1083.7 842.5,1083.7 843.0,1083.7 843.5,1083.7 844.0,1083.7 844.5,1083.7 845.0,1083.7 845.5,1083.7 846.0,1083.7 846.5,1083.7 847.0,1087.4 847.5,1087.4 848.0,1087.4 848.5,1087.4 849.0,1087.4 849.5,1087.4 850.0,1087.4 850.5,1087.4 851.0,1087.4 851.5,1087.4 852.0,1087.4 852.5,1087.4 853.0,1087.4 853.5,1087.4 854.0,1095.9 854.5,1114.9 855.0,1114.9 855.5,1114.9 856.0,1114.9 856.5,1122.4 857.0,1162.0 857.5,1177.3 858.0,1177.3 858.5,1177.3 859.0,1177.3 859.5,1177.3 860.0,1177.3 860.5,1177.3 861.0,1177.3 861.5,1177.3 862.0,1207.3 862.5,1209.7 863.0,1209.7 863.5,1209.7 864.0,1209.7 864.5,1214.7 865.0,1203.9 865.5,1164.8 866.0,1164.8 866.5,1164.8 867.0,1164.8 867.5,1164.8 868.0,1164.8 868.5,1164.8 869.0,1164.8 869.5,1164.8 870.0,1164.8 870.5,1178.8 871.0,1202.2 871.5,1202.2 872.0,1202.2 872.5,1202.2 873.0,1202.2 873.5,1202.2 874.0,1202.2 874.5,1202.2 875.0,1202.2 875.5,1215.7 876.0,1269.8 876.5,1323.5 877.0,1333.2 877.5,1333.2 878.0,1333.2 878.5,1333.9 879.0,1334.5 879.5,1334.5 880.0,1319.4 880.5,1299.3 881.0,1279.1 881.5,1274.6 882.0,1274.6 882.5,1274.6 883.0,1274.6 883.5,1274.6 884.0,1274.6 884.5,1274.6 885.0,1274.6 885.5,1274.6 886.0,1274.6 886.5,1276.3 887.0,1277.9 887.5,1279.6 888.0,1287.1 888.5,1287.1 889.0,1287.1 889.5,1287.1 890.0,1287.1 890.0,1340.4 889.5,1334.8 889.0,1329.2 888.5,1323.5 888.0,1319.5 887.5,1319.5 887.0,1319.5 886.5,1319.5 886.0,1319.5 885.5,1319.5 885.0,1319.5 884.5,1335.0 884.0,1339.2 883.5,1342.9 883.0,1344.5 882.5,1344.5 882.0,1344.5 881.5,1344.5 881.0,1344.5 880.5,1344.5 880.0,1344.5 879.5,1344.5 879.0,1344.5 878.5,1344.5 878.0,1344.5 877.5,1344.5 877.0,1344.5 876.5,1343.4 876.0,1341.3 875.5,1338.7 875.0,1337.0 874.5,1337.0 874.0,1337.0 873.5,1337.0 873.0,1337.0 872.5,1337.0 872.0,1337.0 871.5,1323.0 871.0,1317.0 870.5,1317.0 870.0,1317.0 869.5,1317.0 869.0,1317.0 868.5,1317.0 868.0,1317.0 867.5,1317.0 867.0,1317.0 866.5,1317.0 866.0,1317.0 865.5,1317.0 865.0,1317.0 864.5,1317.0 864.0,1317.0 863.5,1317.0 863.0,1317.0 862.5,1314.5 862.0,1314.5 861.5,1314.5 861.0,1314.5 860.5,1314.5 860.0,1299.5 859.5,1299.5 859.0,1299.5 858.5,1299.5 858.0,1299.5 857.5,1299.5 857.0,1299.5 856.5,1299.5 856.0,1299.5 855.5,1299.5 855.0,1260.5 854.5,1214.7 854.0,1214.7 853.5,1214.7 853.0,1214.7 852.5,1212.2 852.0,1212.2 851.5,1212.2 851.0,1212.2 850.5,1212.2 850.0,1195.7 849.5,1159.8 849.0,1159.8 848.5,1159.8 848.0,1159.8 847.5,1147.2 847.0,1122.4 846.5,1122.4 846.0,1122.4 845.5,1122.4 845.0,1122.4 844.5,1122.4 844.0,1122.4 843.5,1122.4 843.0,1112.8 842.5,1103.0 842.0,1139.2 841.5,1162.3 841.0,1162.3 840.5,1162.3 840.0,1162.3 839.5,1162.3 839.0,1162.3 838.5,1162.3 838.0,1162.3 837.5,1162.3 837.0,1162.3 836.5,1152.7 836.0,1134.8 835.5,1134.8 835.0,1134.8 834.5,1134.8 834.0,1129.8 833.5,1120.6 833.0,1123.2 832.5,1125.8 832.0,1127.9 831.5,1130.5 831.0,1133.1 830.5,1135.7 830.0,1138.3 829.5,1140.3 829.0,1142.9 828.5,1145.5 828.0,1148.1 827.5,1150.7 827.0,1153.3 826.5,1155.4 826.0,1158.0 825.5,1160.6 825.0,1163.2 824.5,1165.8 824.0,1168.9 823.5,1172.0 823.0,1174.6 822.5,1177.7 822.0,1180.3 821.5,1182.4 821.0,1184.5 820.5,1186.6 820.0,1188.2 819.5,1190.8 819.0,1192.9 818.5,1195.5 818.0,1198.1 817.5,1200.7 817.0,1203.3 816.5,1205.9 816.0,1207.9 815.5,1210.5 815.0,1213.1" fill="#e6e632" fill-opacity="1.0" stroke="none"/>
<polyline points="125.5,1358.2 133.0,1358.2 139.2,1358.2 141.7,1356.9 144.2,1349.5 146.7,1347.0 149.2,1342.0 150.4,1332.0 152.9,1329.5 155.4,1324.5 157.9,1319.5 159.2,1314.5 161.7,1289.6 162.9,1214.7 164.2,1194.7 165.4,1279.6 166.7,1239.7 167.9,1219.7 169.9,1164.8 170.9,1117.4 172.4,1164.8 173.4,1234.7 174.9,1152.3 176.6,1122.4 177.9,1124.9 179.1,1214.7 180.4,1157.3 181.6,1179.8 182.9,1162.3 184.1,1229.7 185.4,1164.8 186.6,1254.6 189.1,1264.6 190.4,1249.6 192.1,1274.6 193.6,1247.1 195.4,1159.8 196.6,1209.7 197.9,1134.8 199.1,1209.7 200.4,1132.3 201.6,1147.3 202.4,1214.7 203.6,1309.5 204.8,1189.7 206.1,1289.6 207.3,1259.6 209.1,1289.6 210.3,1179.8 211.6,1294.6 212.8,1244.6 214.8,1332.0 216.6,1322.0 219.1,1324.5 221.6,1327.0 224.1,1328.2 226.6,1328.2 229.1,1325.7 231.6,1329.5 234.0,1334.5 236.5,1342.0 239.0,1349.5 242.8,1353.2 245.3,1358.2 252.8,1358.2 267.7,1358.2 292.7,1358.2 317.7,1358.2 342.6,1358.2 355.1,1358.2 358.8,1355.7 361.3,1352.0 363.8,1347.0 366.3,1342.0 368.8,1337.0 371.3,1324.5 373.1,1309.5 375.1,1294.6 376.3,1294.6 377.5,1309.5 380.0,1294.6 382.5,1274.6 385.0,1254.6 387.5,1232.2 390.0,1209.7 392.5,1179.8 395.0,1152.3 396.2,1139.8 398.2,1114.9 400.0,1102.4 401.2,1174.8 402.5,1114.9 403.7,1117.4 405.0,1249.6 406.2,1139.8 407.5,1097.4 408.7,1169.8 410.0,1277.1 411.2,1099.9 412.5,1084.9 413.7,1214.7 415.0,1319.5 416.2,1189.7 417.5,1097.4 419.4,1097.4 420.4,1174.8 421.9,1099.9 422.9,1267.1 424.9,1187.2 426.2,1259.6 427.4,1239.7 428.7,1289.6 429.9,1309.5 431.2,1214.7 432.4,1172.3 433.7,1259.6 434.9,1194.7 436.2,1304.5 437.4,1214.7 438.7,1252.1 439.9,1333.2 442.4,1329.5 444.9,1324.5 447.4,1317.0 448.9,1257.1 450.4,1279.6 452.4,1319.5 454.9,1312.0 456.9,1334.5 459.4,1343.2 462.4,1352.0 467.4,1356.9 472.4,1358.2 479.8,1358.2 482.3,1356.4 484.8,1358.2 502.3,1358.2 527.3,1358.2 552.2,1358.2 564.7,1358.2 573.4,1358.2 575.9,1353.2 577.7,1339.5 579.7,1327.0 581.7,1314.5 584.7,1302.0 587.2,1314.5 589.7,1284.6 591.6,1264.6 593.4,1244.6 594.6,1227.2 596.6,1209.7 598.4,1192.2 600.9,1179.8 603.4,1169.8 605.9,1162.3 608.4,1154.8 610.1,1144.8 612.1,1127.3 614.1,1114.9 615.9,1102.4 617.6,1097.4 619.1,1164.8 620.1,1219.7 621.6,1139.8 623.3,1089.9 624.6,1084.9 625.8,1069.9 626.6,1114.9 627.8,1139.8 629.6,1084.9 630.8,1114.9 632.1,1144.8 633.3,1079.9 634.6,1189.7 635.8,1264.6 637.1,1314.5 638.3,1214.7 639.6,1119.9 640.8,1277.1 642.1,1144.8 644.1,1289.6 645.8,1179.8 647.1,1309.5 648.3,1209.7 650.0,1159.8 652.0,1319.5 653.3,1189.7 655.0,1202.2 656.5,1304.5 658.3,1327.0 660.0,1334.5 662.0,1314.5 664.0,1339.5 665.8,1342.0 667.0,1287.1 668.7,1289.6 670.0,1302.0 671.2,1314.5 673.7,1329.5 676.2,1342.0 678.7,1350.7 681.2,1356.9 685.0,1358.2 709.9,1358.2 734.9,1358.2 759.8,1358.2 784.8,1358.2 789.8,1358.2 792.3,1354.4 794.8,1344.5 797.3,1327.0 799.8,1304.5 802.3,1284.6 804.7,1264.6 807.2,1244.6 809.7,1229.7 812.2,1214.7 814.7,1202.2 817.2,1189.7 819.7,1179.8 822.2,1164.8 824.7,1152.3 827.2,1139.8 829.7,1127.3 832.2,1114.9 833.9,1104.9 835.4,1102.4 836.7,1134.8 837.9,1099.9 839.2,1162.3 840.2,1089.9 841.7,1084.9 842.9,1089.9 844.2,1083.7 845.9,1122.4 847.7,1102.4 849.2,1087.4 850.2,1159.8 851.4,1087.4 852.7,1212.2 853.9,1114.9 855.2,1214.7 856.7,1179.8 857.9,1299.5 859.2,1177.3 860.4,1284.6 861.6,1209.7 862.9,1314.5 864.1,1214.7 865.4,1317.0 866.6,1289.6 867.9,1164.8 869.1,1317.0 870.4,1214.7 871.6,1314.5 872.9,1202.2 874.1,1337.0 875.9,1333.2 877.1,1334.5 879.1,1344.5 880.9,1344.5 882.1,1334.5 883.6,1274.6 885.1,1279.6 886.6,1319.5 887.6,1287.1 889.1,1302.0 890.8,1322.0 892.6,1342.0 895.1,1350.7 898.3,1355.7 902.1,1358.2 909.6,1358.2 922.0,1358.2 935.8,1358.2 940.8,1358.2 960.8,1358.2 985.7,1358.2 994.5,1358.2" fill="none" stroke="#e6e632" stroke-width="3.8" stroke-linejoin="round" stroke-linecap="butt"/>
<polyline points="124.2,1342.0 126.7,1344.5 130.5,1335.7 134.2,1342.0 138.0,1344.5 140.0,1335.7 142.5,1337.0 143.7,1349.5 145.0,1360.7 146.7,1339.5 149.2,1342.0 151.7,1332.0 154.2,1340.7 156.7,1322.0 159.2,1317.0 161.7,1289.6 162.9,1252.1 164.2,1219.7 166.2,1179.8 167.9,1134.8 169.9,1102.4 171.7,1069.9 172.9,1089.9 174.2,1099.9 176.6,1082.4 179.1,1067.5 181.6,1065.0 183.4,1065.0 185.4,1077.4 187.9,1078.7 189.9,1087.4 191.6,1079.9 193.4,1083.7 195.4,1077.4 197.4,1068.7 199.1,1074.9 201.6,1071.2 204.1,1071.2 206.6,1078.7 209.1,1074.9 210.8,1072.4 212.8,1078.7 215.3,1081.2 216.6,1112.4 217.8,1147.3 219.1,1189.7 220.3,1224.7 222.3,1247.1 224.8,1249.6 226.6,1267.1 229.1,1262.1 231.6,1254.6 233.3,1259.6 235.3,1277.1 237.8,1275.8 239.5,1295.8 241.5,1292.1 244.0,1289.6 246.5,1299.5 248.3,1309.5 250.3,1314.5 252.8,1317.0 254.8,1314.5 256.5,1315.8 259.0,1319.5 261.5,1322.0 264.0,1327.0 266.5,1324.5 267.7,1333.2 270.7,1329.5 272.7,1333.2 275.2,1329.5 279.0,1330.7 281.5,1337.0 284.0,1329.5 286.5,1330.7 290.2,1339.5 292.7,1328.2 296.4,1334.5 298.9,1340.7 302.7,1335.7 306.4,1338.2 310.2,1340.7 312.7,1335.7 316.4,1337.0 318.9,1332.0 321.4,1334.5 323.9,1337.0 326.4,1333.2 328.9,1338.2 331.4,1333.2 333.9,1338.2 337.6,1335.7 341.4,1338.2 345.1,1338.2 348.8,1339.5 352.6,1337.0 356.3,1339.5 360.1,1342.0 362.6,1345.7 364.6,1352.0 366.3,1342.0 368.8,1345.7 372.6,1347.0 375.1,1343.2 377.0,1337.0 378.8,1342.0 380.5,1314.5 382.5,1277.1 385.0,1239.7 387.5,1202.2 390.0,1164.8 392.5,1127.3 395.0,1089.9 396.2,1074.9 398.2,1061.2 400.5,1074.9 402.5,1072.4 405.0,1077.4 407.5,1073.7 409.5,1065.0 412.0,1082.4 413.7,1071.2 416.2,1072.4 418.7,1077.4 421.2,1082.4 423.7,1074.9 425.4,1055.0 427.4,1077.4 429.9,1072.4 431.9,1061.2 434.4,1071.2 437.4,1076.2 439.9,1081.2 441.7,1088.7 443.7,1079.9 447.4,1082.4 449.9,1092.4 452.4,1104.9 455.4,1114.9 457.4,1139.8 459.9,1164.8 462.4,1189.7 464.9,1204.7 467.4,1227.2 469.9,1247.1 472.4,1254.6 474.9,1257.1 477.3,1267.1 479.8,1272.1 482.3,1279.6 484.1,1294.6 486.1,1297.1 487.8,1295.8 489.8,1299.5 492.3,1304.5 494.8,1309.5 497.3,1310.8 499.8,1308.3 502.3,1312.0 504.8,1309.5 506.8,1327.0 509.3,1323.3 511.8,1327.0 514.0,1322.0 517.3,1323.3 519.8,1320.8 522.3,1317.0 524.8,1320.8 526.8,1339.5 528.5,1307.0 530.3,1304.5 532.3,1328.2 534.7,1327.0 538.5,1324.5 542.2,1324.5 544.7,1327.0 548.5,1327.0 552.2,1324.5 554.7,1330.7 557.2,1332.0 559.7,1329.5 562.2,1335.7 564.7,1333.2 567.7,1335.7 570.2,1329.5 572.2,1337.0 575.9,1339.5 578.4,1339.5 580.9,1327.0 582.7,1314.5 584.7,1297.1 587.2,1284.6 588.9,1279.6 589.7,1264.6 590.9,1239.7 592.1,1214.7 593.4,1189.7 594.6,1164.8 595.9,1139.8 597.6,1114.9 599.6,1094.9 601.6,1084.9 603.4,1083.7 605.1,1069.9 607.1,1068.7 609.1,1073.7 610.9,1068.7 613.4,1067.5 615.9,1069.9 618.4,1074.9 620.8,1072.4 623.3,1081.2 625.1,1084.9 626.6,1076.2 628.3,1082.4 630.8,1072.4 633.3,1073.7 635.8,1071.2 638.3,1074.9 640.8,1078.7 643.3,1072.4 645.1,1065.0 647.1,1069.9 649.5,1067.5 652.0,1069.9 654.5,1067.5 657.0,1068.7 659.5,1074.9 662.0,1081.2 664.5,1082.4 667.0,1086.2 668.7,1084.9 670.5,1083.7 672.0,1114.9 674.5,1113.6 676.2,1139.8 678.7,1172.3 681.2,1199.7 683.7,1214.7 686.2,1227.2 688.7,1237.2 691.2,1244.6 693.7,1249.6 696.2,1259.6 698.7,1264.6 701.2,1268.4 704.9,1272.1 708.7,1275.8 711.2,1282.1 713.7,1285.8 716.2,1292.1 718.6,1299.5 721.1,1303.3 724.4,1303.3 727.4,1308.3 729.9,1309.5 732.9,1315.8 735.4,1309.5 738.6,1308.3 741.9,1304.5 744.9,1308.3 747.3,1310.8 749.8,1307.0 752.8,1310.8 756.1,1313.3 758.6,1315.8 761.1,1318.3 762.8,1322.0 765.3,1317.0 767.8,1323.3 771.1,1319.5 773.6,1322.0 776.0,1320.8 779.3,1323.3 781.8,1320.8 784.8,1324.5 787.8,1323.3 790.3,1327.0 792.3,1332.0 794.8,1319.5 796.8,1309.5 798.5,1289.6 801.0,1264.6 803.5,1234.7 806.0,1199.7 808.5,1169.8 811.0,1139.8 813.5,1114.9 816.0,1099.9 819.7,1087.4 822.2,1081.2 824.7,1077.4 826.7,1069.9 828.5,1079.9 831.0,1076.2 833.4,1072.4 835.9,1068.7 838.4,1067.5 840.9,1073.7 842.9,1077.4 844.7,1082.4 847.2,1074.9 849.7,1077.4 852.2,1078.7 854.7,1073.7 857.2,1072.4 859.7,1069.9 862.1,1073.7 864.6,1072.4 868.4,1073.7 871.6,1071.2 874.6,1068.7 877.1,1069.9 879.6,1072.4 882.1,1077.4 884.6,1079.9 887.1,1087.4 889.6,1097.4 891.6,1114.9 893.3,1139.8 895.8,1164.8 898.3,1189.7 900.8,1209.7 903.3,1222.2 907.1,1234.7 909.6,1242.1 912.6,1249.6 915.8,1254.6 919.0,1260.9 922.0,1264.6 925.8,1265.9 929.0,1269.6 932.0,1274.6 935.3,1280.8 939.6,1284.6 943.3,1289.6 947.1,1293.3 950.8,1297.1 953.3,1299.5 955.8,1297.1 958.8,1299.5 962.0,1302.0 964.5,1299.5 967.0,1305.8 969.5,1310.8 972.0,1315.8 974.5,1319.5 976.3,1313.3 978.8,1320.8 981.2,1318.3 983.7,1319.5 985.7,1323.3 988.2,1322.0 990.7,1324.5 993.7,1320.8" fill="none" stroke="#00008c" stroke-width="4" stroke-linejoin="round" stroke-linecap="butt"/>
<text transform="translate(1.3,1532) scale(1.0,1.0)" font-size="42" font-weight="bold">D</text>
<line x1="209" y1="1562" x2="209" y2="1887" stroke="#000" stroke-width="1.3" stroke-dasharray="1.4,1.8"/>
<line x1="421" y1="1562" x2="421" y2="1887" stroke="#000" stroke-width="1.3" stroke-dasharray="1.4,1.8"/>
<line x1="633" y1="1562" x2="633" y2="1887" stroke="#000" stroke-width="1.3" stroke-dasharray="1.4,1.8"/>
<line x1="845.2" y1="1562" x2="845.2" y2="1887" stroke="#000" stroke-width="1.3" stroke-dasharray="1.4,1.8"/>
<line x1="121.4" y1="1557.9" x2="121.4" y2="1887.75" stroke="#000" stroke-width="1.5"/>
<line x1="998.8" y1="1557.3" x2="998.8" y2="1887.75" stroke="#000" stroke-width="1.5"/>
<line x1="120.65" y1="1887" x2="999.55" y2="1887" stroke="#000" stroke-width="1.5"/>
<line x1="110.4" y1="1576.7" x2="121.4" y2="1576.7" stroke="#000" stroke-width="1.5"/>
<text x="103.4" y="1585.3" font-size="24" text-anchor="end">34</text>
<line x1="110.4" y1="1614.6" x2="121.4" y2="1614.6" stroke="#000" stroke-width="1.5"/>
<text x="103.4" y="1623.2" font-size="24" text-anchor="end">32</text>
<line x1="110.4" y1="1652.5" x2="121.4" y2="1652.5" stroke="#000" stroke-width="1.5"/>
<text x="103.4" y="1661.1" font-size="24" text-anchor="end">30</text>
<line x1="110.4" y1="1690.4" x2="121.4" y2="1690.4" stroke="#000" stroke-width="1.5"/>
<text x="103.4" y="1699.0" font-size="24" text-anchor="end">28</text>
<line x1="110.4" y1="1728.3" x2="121.4" y2="1728.3" stroke="#000" stroke-width="1.5"/>
<text x="103.4" y="1736.9" font-size="24" text-anchor="end">26</text>
<line x1="110.4" y1="1766.2" x2="121.4" y2="1766.2" stroke="#000" stroke-width="1.5"/>
<text x="103.4" y="1774.8" font-size="24" text-anchor="end">24</text>
<line x1="110.4" y1="1804.1" x2="121.4" y2="1804.1" stroke="#000" stroke-width="1.5"/>
<text x="103.4" y="1812.7" font-size="24" text-anchor="end">22</text>
<line x1="110.4" y1="1842" x2="121.4" y2="1842" stroke="#000" stroke-width="1.5"/>
<text x="103.4" y="1850.6" font-size="24" text-anchor="end">20</text>
<line x1="110.4" y1="1879.9" x2="121.4" y2="1879.9" stroke="#000" stroke-width="1.5"/>
<text x="103.4" y="1888.5" font-size="24" text-anchor="end">18</text>
<line x1="998.8" y1="1557.3" x2="1009.8" y2="1557.3" stroke="#000" stroke-width="1.5"/>
<text x="1024.3999999999999" y="1565.2" font-size="24">1200</text>
<line x1="998.8" y1="1608.8" x2="1009.8" y2="1608.8" stroke="#000" stroke-width="1.5"/>
<text x="1024.3999999999999" y="1616.7" font-size="24">1000</text>
<line x1="998.8" y1="1660.4" x2="1009.8" y2="1660.4" stroke="#000" stroke-width="1.5"/>
<text x="1024.3999999999999" y="1668.3" font-size="24">800</text>
<line x1="998.8" y1="1711.9" x2="1009.8" y2="1711.9" stroke="#000" stroke-width="1.5"/>
<text x="1024.3999999999999" y="1719.8" font-size="24">600</text>
<line x1="998.8" y1="1763.4" x2="1009.8" y2="1763.4" stroke="#000" stroke-width="1.5"/>
<text x="1024.3999999999999" y="1771.3" font-size="24">400</text>
<line x1="998.8" y1="1815" x2="1009.8" y2="1815" stroke="#000" stroke-width="1.5"/>
<text x="1024.3999999999999" y="1822.9" font-size="24">200</text>
<line x1="998.8" y1="1866.5" x2="1009.8" y2="1866.5" stroke="#000" stroke-width="1.5"/>
<text x="1024.3999999999999" y="1874.4" font-size="24">0</text>
<line x1="208.8" y1="1887" x2="208.8" y2="1898" stroke="#000" stroke-width="1.5"/>
<text x="208.8" y="1925.9" font-size="24" text-anchor="middle">12:00 PM</text>
<text x="208.8" y="1952.4" font-size="24" text-anchor="middle">26-Jul-15</text>
<line x1="421.3" y1="1887" x2="421.3" y2="1898" stroke="#000" stroke-width="1.5"/>
<text x="421.3" y="1925.9" font-size="24" text-anchor="middle">12:00 PM</text>
<text x="421.3" y="1952.4" font-size="24" text-anchor="middle">27-Jul-15</text>
<line x1="633" y1="1887" x2="633" y2="1898" stroke="#000" stroke-width="1.5"/>
<text x="633" y="1925.9" font-size="24" text-anchor="middle">12:00 PM</text>
<text x="633" y="1952.4" font-size="24" text-anchor="middle">28-Jul-15</text>
<line x1="845.1" y1="1887" x2="845.1" y2="1898" stroke="#000" stroke-width="1.5"/>
<text x="845.1" y="1925.9" font-size="24" text-anchor="middle">12:00 PM</text>
<text x="845.1" y="1952.4" font-size="24" text-anchor="middle">29-Jul-15</text>
<text x="573.7" y="1983.4" font-size="27" font-weight="bold" text-anchor="middle">Local Time - Manaus</text>
<text transform="translate(52,1769) rotate(-90)" font-size="27" font-weight="bold">T<tspan dy="6.7" font-size="18">leaf</tspan><tspan dy="-6.7" font-size="24"> (°C)</tspan></text>
<text transform="translate(1082,1565.5) rotate(90)" font-size="24.2" font-weight="bold">Direct Solar Radiation (W m<tspan dy="-17" font-size="16">-2</tspan><tspan dy="17" font-size="24.2">)</tspan></text>
<line x1="135.6" y1="1544.7" x2="180.1" y2="1544.7" stroke="#d80000" stroke-width="4.5"/>
<text x="191.4" y="1551.6" font-size="24">T<tspan dy="5.9" font-size="17">leaf</tspan></text>
<line x1="260.2" y1="1542.7" x2="304.5" y2="1542.7" stroke="#e6e632" stroke-width="4"/>
<text x="314.5" y="1550.6" font-size="24.2">Direct Solar Radiation</text>
<text x="666" y="1547.7" font-size="24.2" font-style="italic">Pouteria anomala</text>
<polyline points="124.2,1823.3 128.0,1820.8 130.5,1824.5 133.0,1827.0 135.5,1824.5 139.2,1828.3 141.7,1830.8 144.2,1827.0 147.9,1823.3 151.7,1825.8 154.2,1823.3 157.9,1824.5 161.7,1820.8 164.2,1817.0 166.7,1809.5 169.2,1804.6 171.7,1795.8 174.2,1789.6 175.9,1784.6 177.9,1774.6 179.1,1764.6 180.4,1749.7 182.4,1729.7 184.1,1712.2 185.9,1689.8 187.9,1674.8 190.4,1654.8 192.9,1647.3 194.9,1637.3 196.6,1644.8 198.4,1654.8 200.4,1669.8 202.4,1642.3 204.1,1664.8 205.8,1674.8 207.8,1677.3 209.8,1684.8 211.6,1642.3 213.3,1637.3 214.8,1627.4 216.6,1639.8 217.8,1632.4 219.1,1654.8 220.8,1694.7 222.3,1659.8 224.1,1677.3 225.8,1662.3 227.3,1644.8 229.1,1642.3 230.8,1654.8 231.8,1699.7 232.8,1764.6 234.8,1762.1 237.3,1749.7 240.3,1747.2 242.8,1743.4 245.8,1740.9 249.0,1738.4 252.8,1735.9 254.8,1744.7 257.8,1754.6 260.3,1764.6 262.2,1774.6 265.2,1775.9 267.7,1778.4 271.5,1780.8 275.2,1783.3 279.0,1784.6 282.7,1787.1 286.5,1788.3 290.2,1789.6 293.9,1788.3 297.7,1790.8 301.4,1792.1 305.2,1795.8 308.9,1797.1 312.7,1798.3 316.4,1800.8 320.1,1802.1 323.9,1804.6 327.6,1804.6 331.4,1805.8 335.1,1808.3 338.9,1809.5 342.6,1810.8 346.4,1808.3 350.1,1809.5 353.8,1813.3 357.6,1817.0 361.3,1815.8 365.1,1814.5 368.8,1813.3 371.3,1812.0 373.8,1809.5 376.3,1804.6 378.8,1799.6 381.3,1794.6 383.8,1787.1 386.3,1777.1 388.0,1769.6 390.0,1767.1 392.0,1757.1 393.8,1747.2 395.0,1737.2 396.2,1749.7 398.7,1732.2 401.2,1712.2 403.0,1689.8 405.0,1684.8 407.0,1664.8 408.7,1649.8 410.5,1632.4 412.5,1624.9 414.5,1627.4 416.2,1622.4 418.0,1609.9 419.4,1614.9 421.2,1607.4 423.7,1624.9 426.2,1614.9 428.7,1607.4 430.4,1609.9 432.4,1612.4 434.4,1609.9 436.2,1649.8 437.9,1662.3 439.4,1637.3 441.2,1649.8 442.9,1619.9 444.9,1634.9 446.9,1629.9 449.9,1632.4 452.4,1632.4 454.4,1657.3 456.1,1659.8 457.9,1637.3 459.4,1629.9 461.1,1634.9 462.9,1652.3 464.9,1654.8 466.9,1672.3 468.6,1677.3 471.1,1679.8 473.6,1687.3 475.4,1694.7 477.3,1709.7 479.3,1722.2 481.3,1714.7 483.6,1712.2 485.3,1724.7 487.3,1722.2 489.3,1724.7 491.1,1749.7 492.8,1767.1 494.8,1779.6 497.3,1784.6 499.8,1790.8 502.3,1785.8 504.8,1789.6 507.3,1784.6 509.8,1783.3 513.5,1784.6 517.3,1783.3 521.0,1782.1 523.5,1780.8 526.0,1783.3 528.5,1785.8 531.0,1787.1 534.7,1789.6 538.5,1793.3 542.2,1795.8 546.0,1797.1 549.7,1799.6 553.5,1792.1 556.0,1797.1 558.5,1800.8 561.0,1804.6 563.4,1800.8 565.9,1807.1 569.7,1809.5 573.4,1808.3 576.7,1807.1 579.7,1809.5 582.7,1805.8 585.2,1800.8 587.7,1794.6 589.7,1787.1 592.1,1779.6 594.6,1767.1 596.1,1749.7 597.6,1739.7 599.6,1732.2 602.1,1722.2 604.6,1709.7 607.1,1699.7 609.1,1689.8 610.9,1679.8 613.4,1667.3 615.9,1649.8 617.6,1642.3 619.6,1629.9 621.6,1617.4 623.3,1612.4 625.8,1609.9 627.6,1607.4 629.6,1597.4 631.6,1592.4 633.3,1594.9 635.1,1589.9 637.1,1594.9 638.3,1599.9 640.1,1592.4 642.1,1609.9 644.1,1602.4 645.8,1607.4 648.3,1629.9 650.0,1612.4 652.0,1649.8 654.0,1614.9 655.8,1627.4 657.5,1644.8 659.0,1614.9 660.8,1659.8 662.5,1619.9 664.5,1654.8 666.3,1607.4 668.7,1632.4 670.5,1629.9 672.5,1637.3 675.0,1639.8 677.5,1649.8 680.0,1657.3 682.5,1664.8 684.5,1674.8 686.2,1687.3 688.0,1699.7 689.9,1704.7 692.4,1712.2 694.4,1724.7 696.2,1719.7 697.9,1724.7 699.9,1722.2 702.4,1722.2 704.9,1727.2 707.4,1729.7 709.9,1728.4 712.4,1732.2 714.9,1737.2 716.9,1744.7 718.6,1752.1 720.4,1762.1 722.4,1767.1 724.9,1768.4 727.4,1769.6 729.9,1773.4 732.4,1774.6 734.9,1778.4 737.4,1775.9 739.9,1777.1 742.4,1769.6 744.9,1772.1 747.3,1775.9 749.8,1775.9 752.3,1772.1 754.8,1778.4 757.3,1779.6 759.8,1782.1 762.3,1789.6 764.8,1790.8 767.3,1793.3 769.8,1795.8 772.3,1794.6 774.8,1792.1 777.3,1795.8 779.8,1793.3 782.8,1793.3 784.8,1797.1 787.3,1802.1 789.8,1803.3 793.5,1803.3 796.0,1799.6 798.5,1789.6 801.0,1777.1 803.5,1764.6 806.0,1752.1 808.5,1739.7 811.0,1727.2 813.5,1714.7 816.0,1702.2 818.5,1689.8 821.0,1674.8 823.5,1664.8 826.0,1649.8 828.5,1634.9 831.0,1622.4 833.4,1614.9 835.9,1609.9 838.4,1607.4 840.9,1599.9 842.7,1592.4 844.7,1589.9 846.7,1588.7 848.4,1587.4 850.2,1592.4 851.7,1599.9 853.4,1599.9 855.2,1607.4 856.7,1639.8 858.4,1614.9 860.1,1619.9 861.6,1609.9 863.4,1629.9 865.1,1607.4 867.1,1619.9 868.6,1644.8 870.1,1607.4 872.1,1619.9 874.1,1609.9 875.9,1612.4 877.6,1622.4 879.1,1637.3 880.1,1609.9 882.1,1619.9 884.6,1622.4 887.6,1623.6 889.6,1629.9 891.6,1644.8 893.3,1659.8 895.8,1667.3 898.3,1677.3 900.8,1687.3 903.3,1694.7 905.8,1699.7 908.3,1704.7 910.8,1709.7 913.3,1714.7 915.8,1719.7 918.3,1723.4 920.8,1727.2 923.3,1729.7 925.8,1732.2 928.3,1737.2 930.8,1739.7 933.3,1740.9 935.8,1743.4 938.3,1753.4 940.8,1754.6 943.3,1757.1 945.8,1759.6 948.3,1762.1 950.8,1763.4 953.3,1762.1 955.8,1764.6 958.3,1767.1 960.8,1769.6 963.3,1777.1 965.8,1779.6 968.3,1782.1 970.8,1780.8 973.3,1784.6 975.8,1789.6 978.3,1792.1 980.7,1793.3 983.2,1795.8 985.7,1792.1 988.2,1793.3 990.7,1792.1 993.2,1793.3 995.2,1794.6" fill="none" stroke="#d80000" stroke-width="4.2" stroke-linejoin="round" stroke-linecap="butt"/>
<polygon points="175.0,1817.6 175.5,1812.5 176.0,1802.8 176.5,1792.6 177.0,1767.5 177.5,1736.8 178.0,1712.2 178.5,1712.2 179.0,1712.2 179.5,1712.2 180.0,1712.2 180.5,1689.8 181.0,1689.8 181.5,1689.8 182.0,1689.8 182.5,1689.8 183.0,1686.2 183.5,1682.1 184.0,1677.5 184.5,1673.4 185.0,1666.8 185.5,1652.6 186.0,1638.4 186.5,1634.9 187.0,1634.9 187.5,1634.9 188.0,1634.9 188.5,1634.9 189.0,1634.9 189.5,1634.9 190.0,1634.9 190.5,1634.9 191.0,1634.9 191.5,1640.9 192.0,1639.8 192.5,1639.8 193.0,1639.8 193.5,1639.8 194.0,1639.8 194.5,1639.8 195.0,1639.8 195.5,1639.8 196.0,1639.8 196.5,1639.8 197.0,1662.5 197.5,1664.8 198.0,1664.8 198.5,1664.8 199.0,1664.8 199.5,1679.8 200.0,1679.8 200.5,1679.8 201.0,1679.8 201.5,1679.8 202.0,1684.8 202.5,1684.8 203.0,1684.8 203.5,1684.8 204.0,1684.8 204.5,1694.4 205.0,1706.6 205.5,1719.3 206.0,1732.9 206.5,1747.1 207.0,1757.8 207.5,1764.6 208.0,1762.6 208.5,1748.4 209.0,1734.3 209.5,1719.7 210.0,1703.0 210.5,1686.4 211.0,1672.2 211.5,1664.1 212.0,1655.4 212.5,1649.8 213.0,1649.8 213.5,1649.8 214.0,1649.8 214.5,1649.8 215.0,1649.8 215.5,1649.8 216.0,1649.8 216.5,1649.8 217.0,1649.8 217.5,1650.4 218.0,1651.1 218.5,1652.3 219.0,1657.9 219.5,1674.0 220.0,1689.6 220.5,1710.3 221.0,1740.4 221.5,1728.7 222.0,1724.7 222.5,1724.7 223.0,1724.7 223.5,1724.7 224.0,1700.3 224.5,1694.7 225.0,1694.7 225.5,1694.7 226.0,1694.7 226.5,1694.7 227.0,1694.7 227.5,1694.7 228.0,1694.7 228.5,1694.7 229.0,1694.7 229.5,1731.9 230.0,1744.7 230.5,1744.7 231.0,1744.7 231.5,1744.7 232.0,1764.3 232.5,1786.5 233.0,1806.6 233.5,1823.3 234.0,1832.0 234.5,1832.0 235.0,1832.0 235.0,1836.4 234.5,1838.3 234.0,1842.0 233.5,1842.0 233.0,1842.0 232.5,1842.0 232.0,1842.0 231.5,1842.0 231.0,1842.0 230.5,1842.0 230.0,1842.0 229.5,1842.0 229.0,1840.0 228.5,1822.8 228.0,1806.1 227.5,1804.6 227.0,1804.6 226.5,1804.6 226.0,1804.6 225.5,1804.6 225.0,1804.6 224.5,1804.6 224.0,1804.6 223.5,1804.6 223.0,1809.5 222.5,1819.5 222.0,1819.5 221.5,1819.5 221.0,1819.5 220.5,1819.5 220.0,1819.5 219.5,1819.5 219.0,1819.5 218.5,1819.5 218.0,1819.5 217.5,1807.9 217.0,1789.7 216.5,1770.1 216.0,1739.9 215.5,1709.8 215.0,1702.5 214.5,1719.1 214.0,1733.8 213.5,1747.9 213.0,1762.1 212.5,1772.2 212.0,1780.4 211.5,1787.1 211.0,1787.1 210.5,1787.1 210.0,1787.1 209.5,1787.1 209.0,1787.1 208.5,1787.1 208.0,1787.1 207.5,1787.1 207.0,1787.1 206.5,1786.0 206.0,1783.3 205.5,1780.1 205.0,1775.5 204.5,1774.6 204.0,1774.6 203.5,1774.6 203.0,1774.6 202.5,1767.5 202.0,1757.3 201.5,1746.6 201.0,1732.4 200.5,1732.6 200.0,1739.7 199.5,1739.7 199.0,1739.7 198.5,1739.7 198.0,1739.7 197.5,1739.7 197.0,1739.7 196.5,1739.7 196.0,1739.7 195.5,1739.7 195.0,1717.6 194.5,1712.2 194.0,1720.5 193.5,1749.7 193.0,1749.7 192.5,1749.7 192.0,1749.7 191.5,1749.7 191.0,1749.7 190.5,1749.7 190.0,1749.7 189.5,1749.7 189.0,1749.7 188.5,1742.1 188.0,1712.0 187.5,1699.9 187.0,1717.1 186.5,1729.7 186.0,1729.7 185.5,1729.7 185.0,1729.7 184.5,1760.5 184.0,1789.6 183.5,1789.6 183.0,1789.6 182.5,1789.6 182.0,1789.6 181.5,1792.1 181.0,1802.3 180.5,1812.0 180.0,1817.1 179.5,1821.2 179.0,1824.9 178.5,1828.5 178.0,1829.5 177.5,1830.8 177.0,1831.4 176.5,1832.5 176.0,1834.7 175.5,1836.8 175.0,1839.0" fill="#e6e632" fill-opacity="1.0" stroke="none"/>
<polygon points="390.0,1805.1 390.5,1801.5 391.0,1797.3 391.5,1793.7 392.0,1790.1 392.5,1787.0 393.0,1784.3 393.5,1781.2 394.0,1776.6 394.5,1771.0 395.0,1764.9 395.5,1758.8 396.0,1752.7 396.5,1747.1 397.0,1740.9 397.5,1735.3 398.0,1729.7 398.5,1722.1 399.0,1714.5 399.5,1707.4 400.0,1699.7 400.5,1696.1 401.0,1692.5 401.5,1688.4 402.0,1684.3 402.5,1668.6 403.0,1653.0 403.5,1636.9 404.0,1629.9 404.5,1629.9 405.0,1629.9 405.5,1629.9 406.0,1629.9 406.5,1629.9 407.0,1629.9 407.5,1629.9 408.0,1629.9 408.5,1629.9 409.0,1630.5 409.5,1627.2 410.0,1623.5 410.5,1619.9 411.0,1619.9 411.5,1619.9 412.0,1619.9 412.5,1619.9 413.0,1619.9 413.5,1619.9 414.0,1619.9 414.5,1619.9 415.0,1619.9 415.5,1621.9 416.0,1623.0 416.5,1617.4 417.0,1617.4 417.5,1617.4 418.0,1617.4 418.5,1617.4 419.0,1617.4 419.5,1617.4 420.0,1599.9 420.5,1599.3 421.0,1598.0 421.5,1597.4 422.0,1597.4 422.5,1597.4 423.0,1597.4 423.5,1597.4 424.0,1597.4 424.5,1597.4 425.0,1597.4 425.5,1597.4 426.0,1597.4 426.5,1602.0 427.0,1609.2 427.5,1612.4 428.0,1612.4 428.5,1612.4 429.0,1612.4 429.5,1612.4 430.0,1612.4 430.5,1612.4 431.0,1612.4 431.5,1614.0 432.0,1616.1 432.5,1618.3 433.0,1623.9 433.5,1650.5 434.0,1677.1 434.5,1699.7 435.0,1699.7 435.5,1699.7 436.0,1699.7 436.5,1699.7 437.0,1705.8 437.5,1729.7 438.0,1729.7 438.5,1729.7 439.0,1729.7 439.5,1733.7 440.0,1715.8 440.5,1684.8 441.0,1684.8 441.5,1684.8 442.0,1684.8 442.5,1684.8 443.0,1684.8 443.5,1684.8 444.0,1684.8 444.5,1684.8 445.0,1684.8 445.5,1692.3 446.0,1707.2 446.5,1707.2 447.0,1707.2 447.5,1707.2 448.0,1707.2 448.5,1707.2 449.0,1720.8 449.5,1724.7 450.0,1724.7 450.0,1839.5 449.5,1839.5 449.0,1839.5 448.5,1830.0 448.0,1796.9 447.5,1774.6 447.0,1794.0 446.5,1799.6 446.0,1799.6 445.5,1799.6 445.0,1799.6 444.5,1799.6 444.0,1799.6 443.5,1817.0 443.0,1817.0 442.5,1817.0 442.0,1817.0 441.5,1817.0 441.0,1817.0 440.5,1817.0 440.0,1817.0 439.5,1817.0 439.0,1817.0 438.5,1814.5 438.0,1814.5 437.5,1814.5 437.0,1814.5 436.5,1814.5 436.0,1806.5 435.5,1794.6 435.0,1794.6 434.5,1794.6 434.0,1794.6 433.5,1794.6 433.0,1781.5 432.5,1774.6 432.0,1774.6 431.5,1774.6 431.0,1774.6 430.5,1764.1 430.0,1733.9 429.5,1736.3 429.0,1790.5 428.5,1824.5 428.0,1824.5 427.5,1824.5 427.0,1824.5 426.5,1824.5 426.0,1824.5 425.5,1824.5 425.0,1824.5 424.5,1824.5 424.0,1824.5 423.5,1793.0 423.0,1789.6 422.5,1789.6 422.0,1789.6 421.5,1789.6 421.0,1789.6 420.5,1789.6 420.0,1789.6 419.5,1789.6 419.0,1789.6 418.5,1763.5 418.0,1762.1 417.5,1762.1 417.0,1762.1 416.5,1762.1 416.0,1762.1 415.5,1762.1 415.0,1762.1 414.5,1762.1 414.0,1762.1 413.5,1752.1 413.0,1728.5 412.5,1704.9 412.0,1681.8 411.5,1674.8 411.0,1674.8 410.5,1674.8 410.0,1674.8 409.5,1674.8 409.0,1674.8 408.5,1674.8 408.0,1674.8 407.5,1674.8 407.0,1683.8 406.5,1687.9 406.0,1692.0 405.5,1695.6 405.0,1699.2 404.5,1706.8 404.0,1714.0 403.5,1721.6 403.0,1729.2 402.5,1734.8 402.0,1740.4 401.5,1746.6 401.0,1752.2 400.5,1758.3 400.0,1764.4 399.5,1770.5 399.0,1776.0 398.5,1780.6 398.0,1783.8 397.5,1786.4 397.0,1789.6 396.5,1793.2 396.0,1796.8 395.5,1800.9 395.0,1804.6 394.5,1808.2 394.0,1811.8 393.5,1815.9 393.0,1819.5 392.5,1819.5 392.0,1819.5 391.5,1819.5 391.0,1819.5 390.5,1819.5 390.0,1819.5" fill="#e6e632" fill-opacity="1.0" stroke="none"/>
<polygon points="600.0,1720.1 600.5,1717.0 601.0,1714.5 601.5,1711.4 602.0,1708.3 602.5,1704.7 603.0,1701.6 603.5,1698.0 604.0,1694.4 604.5,1690.8 605.0,1688.7 605.5,1686.6 606.0,1684.5 606.5,1682.4 607.0,1680.3 607.5,1678.2 608.0,1675.6 608.5,1673.0 609.0,1670.4 609.5,1668.3 610.0,1665.2 610.5,1662.1 611.0,1659.0 611.5,1656.5 612.0,1653.4 612.5,1650.8 613.0,1648.2 613.5,1645.6 614.0,1643.0 614.5,1640.4 615.0,1638.3 615.5,1635.7 616.0,1633.1 616.5,1630.5 617.0,1627.9 617.5,1625.8 618.0,1624.2 618.5,1622.1 619.0,1620.0 619.5,1617.9 620.0,1617.4 620.5,1617.4 621.0,1617.4 621.5,1617.4 622.0,1617.4 622.5,1617.4 623.0,1617.4 623.5,1617.4 624.0,1617.4 624.5,1617.4 625.0,1613.5 625.5,1599.9 626.0,1599.9 626.5,1599.9 627.0,1599.9 627.5,1599.9 628.0,1594.0 628.5,1587.4 629.0,1587.4 629.5,1587.4 630.0,1587.4 630.5,1587.4 631.0,1587.4 631.5,1587.4 632.0,1587.4 632.5,1587.4 633.0,1587.4 633.5,1592.4 634.0,1592.4 634.5,1592.4 635.0,1592.4 635.5,1592.4 636.0,1594.5 636.5,1600.6 637.0,1606.2 637.5,1611.9 638.0,1623.5 638.5,1635.7 639.0,1648.3 639.5,1692.0 640.0,1654.3 640.5,1646.2 641.0,1642.0 641.5,1637.9 642.0,1637.3 642.5,1637.3 643.0,1637.3 643.5,1637.3 644.0,1637.3 644.5,1637.3 645.0,1637.3 645.5,1637.3 646.0,1637.3 646.5,1637.3 647.0,1694.7 647.5,1694.7 648.0,1694.7 648.5,1694.7 649.0,1694.7 649.5,1694.7 650.0,1694.7 650.5,1694.7 651.0,1694.7 651.5,1694.7 652.0,1677.3 652.5,1674.8 653.0,1674.8 653.5,1674.8 654.0,1674.8 654.5,1674.8 655.0,1674.8 655.5,1674.8 656.0,1674.8 656.5,1674.8 657.0,1674.8 657.5,1712.2 658.0,1712.2 658.5,1712.2 659.0,1712.2 659.5,1712.2 660.0,1712.2 660.5,1712.2 661.0,1724.7 661.5,1724.7 662.0,1724.7 662.5,1724.7 663.0,1724.7 663.5,1724.7 664.0,1760.3 664.5,1797.9 665.0,1827.8 665.5,1816.2 666.0,1805.1 666.5,1799.6 667.0,1798.5 667.5,1798.0 668.0,1797.4 668.5,1796.4 669.0,1795.8 669.5,1795.8 670.0,1795.8 670.0,1827.3 669.5,1838.4 669.0,1849.5 668.5,1849.5 668.0,1849.5 667.5,1849.5 667.0,1849.5 666.5,1849.5 666.0,1849.5 665.5,1849.5 665.0,1849.5 664.5,1849.5 664.0,1848.9 663.5,1847.3 663.0,1845.2 662.5,1843.6 662.0,1841.4 661.5,1840.3 661.0,1839.2 660.5,1838.1 660.0,1835.0 659.5,1819.5 659.0,1819.5 658.5,1819.5 658.0,1824.5 657.5,1824.5 657.0,1824.5 656.5,1824.5 656.0,1824.5 655.5,1824.5 655.0,1824.5 654.5,1824.5 654.0,1824.5 653.5,1824.5 653.0,1812.0 652.5,1812.0 652.0,1812.0 651.5,1812.0 651.0,1812.0 650.5,1812.0 650.0,1812.0 649.5,1811.0 649.0,1798.8 648.5,1786.7 648.0,1796.4 647.5,1822.0 647.0,1822.0 646.5,1822.0 646.0,1822.0 645.5,1822.0 645.0,1822.0 644.5,1822.0 644.0,1822.0 643.5,1822.0 643.0,1822.0 642.5,1812.0 642.0,1812.0 641.5,1812.0 641.0,1812.0 640.5,1812.0 640.0,1812.0 639.5,1812.0 639.0,1812.0 638.5,1812.0 638.0,1812.0 637.5,1784.0 637.0,1774.6 636.5,1774.6 636.0,1774.6 635.5,1774.6 635.0,1742.5 634.5,1692.9 634.0,1649.8 633.5,1649.8 633.0,1649.8 632.5,1649.8 632.0,1649.8 631.5,1649.8 631.0,1649.8 630.5,1649.8 630.0,1649.8 629.5,1645.8 629.0,1654.8 628.5,1687.0 628.0,1719.1 627.5,1729.7 627.0,1729.7 626.5,1729.7 626.0,1729.7 625.5,1729.7 625.0,1729.7 624.5,1729.7 624.0,1729.7 623.5,1729.7 623.0,1729.7 622.5,1699.6 622.0,1655.5 621.5,1630.0 621.0,1632.6 620.5,1635.2 620.0,1637.8 619.5,1639.8 619.0,1642.4 618.5,1645.0 618.0,1647.6 617.5,1650.2 617.0,1652.8 616.5,1655.9 616.0,1658.5 615.5,1661.6 615.0,1664.7 614.5,1667.8 614.0,1669.9 613.5,1672.5 613.0,1675.1 612.5,1677.7 612.0,1679.8 611.5,1681.9 611.0,1684.0 610.5,1686.1 610.0,1688.2 609.5,1690.3 609.0,1693.9 608.5,1697.5 608.0,1701.1 607.5,1704.1 607.0,1707.7 606.5,1710.8 606.0,1713.9 605.5,1716.5 605.0,1719.6 604.5,1722.7 604.0,1725.8 603.5,1728.9 603.0,1731.5 602.5,1734.6 602.0,1737.7 601.5,1741.8 601.0,1745.4 600.5,1749.0 600.0,1752.7" fill="#e6e632" fill-opacity="1.0" stroke="none"/>
<polygon points="820.0,1678.7 820.5,1676.1 821.0,1673.5 821.5,1670.9 822.0,1668.9 822.5,1666.3 823.0,1663.7 823.5,1661.1 824.0,1658.5 824.5,1655.9 825.0,1653.8 825.5,1651.2 826.0,1648.6 826.5,1646.0 827.0,1643.4 827.5,1641.3 828.0,1638.7 828.5,1636.1 829.0,1633.5 829.5,1630.9 830.0,1628.8 830.5,1626.7 831.0,1625.1 831.5,1623.0 832.0,1620.9 832.5,1619.3 833.0,1618.2 833.5,1617.1 834.0,1615.4 834.5,1614.9 835.0,1614.9 835.5,1614.9 836.0,1614.9 836.5,1614.9 837.0,1614.9 837.5,1614.9 838.0,1614.9 838.5,1614.9 839.0,1609.8 839.5,1605.6 840.0,1601.5 840.5,1599.4 841.0,1597.7 841.5,1596.0 842.0,1594.9 842.5,1594.9 843.0,1594.9 843.5,1594.9 844.0,1594.9 844.5,1594.9 845.0,1594.9 845.5,1594.9 846.0,1594.9 846.5,1594.9 847.0,1597.5 847.5,1601.2 848.0,1604.8 848.5,1604.9 849.0,1604.9 849.5,1604.9 850.0,1604.9 850.5,1604.9 851.0,1604.9 851.5,1604.9 852.0,1608.0 852.5,1612.1 853.0,1616.8 853.5,1622.4 854.0,1634.5 854.5,1642.3 855.0,1642.3 855.5,1642.3 856.0,1642.3 856.5,1642.3 857.0,1642.3 857.5,1642.3 858.0,1645.9 858.5,1662.0 859.0,1678.6 859.5,1694.7 860.0,1704.7 860.5,1704.7 861.0,1704.7 861.5,1704.7 862.0,1704.7 862.5,1717.3 863.0,1722.2 863.5,1722.2 864.0,1722.2 864.5,1722.2 865.0,1707.6 865.5,1690.4 866.0,1677.3 866.5,1677.3 867.0,1677.3 867.5,1677.3 868.0,1677.3 868.5,1677.3 869.0,1677.3 869.5,1677.3 870.0,1677.3 870.5,1677.3 871.0,1691.3 871.5,1714.7 872.0,1714.7 872.5,1714.7 873.0,1714.7 873.5,1714.7 874.0,1714.7 874.5,1714.7 875.0,1747.8 875.5,1791.4 876.0,1826.6 876.5,1834.8 877.0,1839.5 877.5,1839.5 878.0,1839.5 878.5,1839.5 879.0,1839.5 879.5,1841.6 880.0,1831.4 880.0,1854.5 879.5,1854.5 879.0,1854.5 878.5,1854.5 878.0,1854.5 877.5,1853.9 877.0,1851.8 876.5,1849.7 876.0,1847.5 875.5,1845.4 875.0,1844.5 874.5,1844.5 874.0,1844.5 873.5,1844.5 873.0,1844.5 872.5,1844.5 872.0,1842.4 871.5,1834.2 871.0,1826.1 870.5,1824.5 870.0,1824.5 869.5,1824.5 869.0,1824.5 868.5,1824.5 868.0,1824.5 867.5,1824.5 867.0,1827.0 866.5,1827.0 866.0,1827.0 865.5,1827.0 865.0,1827.0 864.5,1827.0 864.0,1827.0 863.5,1827.0 863.0,1827.0 862.5,1827.0 862.0,1824.5 861.5,1824.5 861.0,1824.5 860.5,1824.5 860.0,1824.5 859.5,1815.5 859.0,1809.5 858.5,1809.5 858.0,1809.5 857.5,1809.5 857.0,1809.5 856.5,1809.5 856.0,1809.5 855.5,1773.9 855.0,1729.8 854.5,1724.7 854.0,1724.7 853.5,1724.7 853.0,1724.7 852.5,1724.7 852.0,1724.7 851.5,1717.7 851.0,1697.0 850.5,1675.9 850.0,1658.3 849.5,1646.1 849.0,1639.8 848.5,1639.8 848.0,1639.8 847.5,1639.8 847.0,1639.8 846.5,1639.8 846.0,1639.8 845.5,1639.8 845.0,1636.3 844.5,1627.2 844.0,1618.0 843.5,1619.9 843.0,1641.6 842.5,1663.2 842.0,1677.3 841.5,1677.3 841.0,1677.3 840.5,1677.3 840.0,1677.3 839.5,1677.3 839.0,1677.3 838.5,1677.3 838.0,1677.3 837.5,1677.3 837.0,1672.7 836.5,1660.5 836.0,1648.3 835.5,1638.7 835.0,1629.6 834.5,1630.4 834.0,1633.0 833.5,1635.6 833.0,1638.2 832.5,1640.8 832.0,1642.9 831.5,1645.5 831.0,1648.1 830.5,1650.7 830.0,1653.3 829.5,1655.3 829.0,1657.9 828.5,1660.5 828.0,1663.1 827.5,1665.7 827.0,1668.3 826.5,1670.4 826.0,1673.0 825.5,1675.6 825.0,1678.2 824.5,1680.8 824.0,1682.9 823.5,1685.5 823.0,1688.1 822.5,1690.7 822.0,1693.8 821.5,1696.9 821.0,1700.5 820.5,1704.1 820.0,1707.7" fill="#e6e632" fill-opacity="1.0" stroke="none"/>
<polyline points="125.5,1866.4 138.0,1866.4 155.4,1866.4 157.9,1864.4 160.4,1860.7 162.9,1857.0 165.4,1852.0 167.9,1844.5 170.4,1838.2 172.4,1839.5 174.2,1832.0 175.9,1829.5 177.9,1814.5 179.1,1789.6 180.4,1712.2 181.6,1789.6 182.9,1689.8 184.1,1729.7 185.4,1687.3 187.4,1669.8 188.6,1634.9 189.9,1674.8 191.1,1749.7 192.4,1654.8 194.1,1639.8 195.4,1712.2 196.6,1664.8 197.9,1739.7 199.1,1679.8 200.4,1724.7 201.6,1684.8 202.9,1714.7 204.1,1749.7 205.3,1774.6 206.6,1764.6 207.8,1779.6 209.1,1787.1 210.3,1767.1 211.8,1724.7 213.3,1674.8 214.8,1649.8 216.3,1652.3 217.8,1699.7 219.1,1774.6 220.3,1819.5 221.6,1749.7 222.8,1799.6 224.1,1724.7 225.3,1804.6 226.6,1694.7 227.8,1799.6 229.1,1744.7 230.3,1799.6 231.6,1842.0 232.8,1832.0 235.3,1834.5 237.8,1837.0 240.3,1835.7 242.8,1838.2 245.8,1834.5 247.8,1839.5 250.3,1843.2 252.8,1849.5 255.3,1859.5 257.8,1863.2 261.5,1866.4 292.7,1866.4 317.7,1866.4 342.6,1866.4 367.6,1866.4 370.1,1864.4 372.6,1860.7 376.3,1855.7 379.5,1849.5 381.3,1842.0 383.8,1829.5 385.5,1817.0 387.0,1804.6 388.8,1807.1 390.5,1819.5 392.5,1804.6 394.5,1789.6 396.2,1779.6 398.7,1749.7 400.5,1729.7 402.5,1699.7 404.5,1684.8 406.2,1629.9 407.5,1632.4 409.5,1674.8 411.2,1632.4 413.0,1619.9 414.5,1679.8 416.2,1762.1 417.5,1649.8 418.7,1617.4 419.9,1624.9 421.2,1789.6 422.4,1599.9 423.7,1597.4 424.9,1614.9 426.2,1824.5 427.4,1689.8 428.7,1612.4 430.4,1619.9 431.9,1699.7 433.2,1774.6 434.4,1699.7 435.7,1794.6 436.9,1729.7 438.7,1814.5 439.9,1767.1 441.2,1817.0 442.9,1684.8 444.4,1799.6 446.2,1707.2 447.9,1774.6 449.4,1724.7 451.1,1839.5 453.6,1837.0 456.1,1829.5 457.9,1819.5 459.4,1767.1 461.1,1819.5 462.9,1824.5 464.9,1839.5 466.9,1847.0 469.4,1849.5 472.4,1859.5 476.1,1865.7 489.8,1865.7 491.1,1864.0 492.3,1865.7 514.8,1866.4 539.7,1866.4 564.7,1866.4 580.9,1866.4 582.7,1862.0 584.7,1852.0 586.7,1834.5 588.7,1819.5 590.9,1804.6 592.6,1797.1 594.1,1822.0 595.9,1764.6 597.6,1752.1 599.6,1737.2 602.1,1722.2 604.6,1707.2 607.1,1689.8 609.6,1679.8 612.1,1667.3 614.6,1652.3 617.1,1639.8 619.6,1627.4 622.1,1617.4 624.1,1619.9 625.3,1729.7 626.6,1649.8 627.8,1599.9 629.1,1619.9 630.8,1587.4 632.1,1649.8 633.3,1592.4 635.1,1612.4 636.6,1649.8 637.8,1774.6 639.1,1699.7 640.3,1812.0 641.6,1724.7 642.6,1649.8 644.1,1637.3 645.1,1822.0 646.6,1737.2 647.8,1757.1 649.0,1694.7 650.8,1782.1 652.0,1812.0 653.3,1749.7 654.5,1674.8 655.8,1824.5 657.0,1769.6 658.3,1712.2 659.5,1819.5 661.0,1724.7 662.5,1837.0 664.5,1842.0 666.5,1849.5 668.7,1799.6 671.2,1795.8 673.7,1799.6 676.2,1814.5 678.7,1832.0 681.2,1844.5 683.7,1854.5 686.2,1862.0 689.9,1865.7 709.9,1866.4 734.9,1866.4 759.8,1866.4 784.8,1866.4 792.3,1865.7 794.8,1859.5 797.3,1847.0 799.8,1829.5 802.3,1809.5 804.7,1789.6 807.2,1769.6 809.7,1754.6 812.2,1739.7 814.7,1724.7 817.2,1709.7 819.7,1692.3 822.2,1679.8 824.7,1667.3 827.2,1654.8 829.7,1642.3 832.2,1629.9 834.7,1619.9 836.7,1614.9 838.4,1647.3 839.7,1677.3 841.2,1612.4 842.7,1599.9 844.2,1594.9 845.9,1607.4 847.7,1639.8 849.2,1604.9 850.9,1619.9 852.7,1662.3 854.2,1724.7 855.4,1642.3 857.2,1699.7 858.4,1809.5 859.7,1704.7 860.9,1749.7 862.1,1824.5 863.4,1722.2 864.6,1827.0 865.9,1762.1 867.1,1719.7 868.4,1677.3 869.6,1824.5 870.9,1724.7 872.1,1714.7 873.4,1824.5 874.6,1844.5 876.6,1839.5 878.4,1847.0 880.1,1854.5 882.1,1852.0 883.4,1784.6 885.1,1789.6 886.6,1824.5 887.6,1797.1 889.1,1812.0 890.8,1832.0 892.6,1849.5 895.8,1862.0 899.6,1865.7 909.6,1866.4 935.8,1866.4 938.3,1866.4 960.8,1866.4 985.7,1866.4 994.5,1866.4" fill="none" stroke="#e6e632" stroke-width="3.8" stroke-linejoin="round" stroke-linecap="butt"/>
<text transform="translate(3,2051.5) scale(1.0,1.07)" font-size="42" font-weight="bold">E</text>
<line x1="138.2" y1="2067.8" x2="138.2" y2="2397.15" stroke="#000" stroke-width="1.5"/>
<line x1="1015.1" y1="2067" x2="1015.1" y2="2397.15" stroke="#000" stroke-width="1.5"/>
<line x1="137.45" y1="2396.4" x2="1015.85" y2="2396.4" stroke="#000" stroke-width="1.5"/>
<line x1="127.19999999999999" y1="2096.9" x2="138.2" y2="2096.9" stroke="#000" stroke-width="1.5"/>
<text x="120.19999999999999" y="2105.5" font-size="24" text-anchor="end">10</text>
<line x1="127.19999999999999" y1="2156.8" x2="138.2" y2="2156.8" stroke="#000" stroke-width="1.5"/>
<text x="120.19999999999999" y="2165.4" font-size="24" text-anchor="end">8</text>
<line x1="127.19999999999999" y1="2216.7" x2="138.2" y2="2216.7" stroke="#000" stroke-width="1.5"/>
<text x="120.19999999999999" y="2225.3" font-size="24" text-anchor="end">6</text>
<line x1="127.19999999999999" y1="2276.6" x2="138.2" y2="2276.6" stroke="#000" stroke-width="1.5"/>
<text x="120.19999999999999" y="2285.2" font-size="24" text-anchor="end">4</text>
<line x1="127.19999999999999" y1="2336.5" x2="138.2" y2="2336.5" stroke="#000" stroke-width="1.5"/>
<text x="120.19999999999999" y="2345.1" font-size="24" text-anchor="end">2</text>
<line x1="1015.1" y1="2067" x2="1026.1" y2="2067" stroke="#000" stroke-width="1.5"/>
<text x="1033.1" y="2075.6" font-size="24">32</text>
<line x1="1015.1" y1="2135.7" x2="1026.1" y2="2135.7" stroke="#000" stroke-width="1.5"/>
<text x="1033.1" y="2144.3" font-size="24">30</text>
<line x1="1015.1" y1="2204.4" x2="1026.1" y2="2204.4" stroke="#000" stroke-width="1.5"/>
<text x="1033.1" y="2213.0" font-size="24">28</text>
<line x1="1015.1" y1="2273.1" x2="1026.1" y2="2273.1" stroke="#000" stroke-width="1.5"/>
<text x="1033.1" y="2281.7" font-size="24">26</text>
<line x1="1015.1" y1="2341.8" x2="1026.1" y2="2341.8" stroke="#000" stroke-width="1.5"/>
<text x="1033.1" y="2350.4" font-size="24">24</text>
<line x1="290.3" y1="2396.4" x2="290.3" y2="2407.4" stroke="#000" stroke-width="1.5"/>
<text x="290.3" y="2435.0" font-size="24" text-anchor="middle">00:00</text>
<text x="290.3" y="2462.3" font-size="24" text-anchor="middle">17-Mar-16</text>
<line x1="404.9" y1="2396.4" x2="404.9" y2="2407.4" stroke="#000" stroke-width="1.5"/>
<text x="404.9" y="2435.0" font-size="24" text-anchor="middle">12:00</text>
<line x1="519.6" y1="2396.4" x2="519.6" y2="2407.4" stroke="#000" stroke-width="1.5"/>
<text x="519.6" y="2435.0" font-size="24" text-anchor="middle">00:00</text>
<text x="519.6" y="2462.3" font-size="24" text-anchor="middle">18-Mar-16</text>
<line x1="634.3" y1="2396.4" x2="634.3" y2="2407.4" stroke="#000" stroke-width="1.5"/>
<text x="634.3" y="2435.0" font-size="24" text-anchor="middle">12:00</text>
<line x1="749" y1="2396.4" x2="749" y2="2407.4" stroke="#000" stroke-width="1.5"/>
<text x="749" y="2435.0" font-size="24" text-anchor="middle">00:00</text>
<text x="749" y="2462.3" font-size="24" text-anchor="middle">19-Mar-16</text>
<line x1="863.7" y1="2396.4" x2="863.7" y2="2407.4" stroke="#000" stroke-width="1.5"/>
<text x="863.7" y="2435.0" font-size="24" text-anchor="middle">12:00</text>
<line x1="978.4" y1="2396.4" x2="978.4" y2="2407.4" stroke="#000" stroke-width="1.5"/>
<text x="978.4" y="2435.0" font-size="24" text-anchor="middle">00:00</text>
<text x="978.4" y="2462.3" font-size="24" text-anchor="middle">20-Mar-16</text>
<text x="566.4" y="2494" font-size="27" font-weight="bold" text-anchor="middle">Local Time - Santarém</text>
<text transform="translate(80.2,2354.6) rotate(-90)" font-size="27.5" font-weight="bold">Sap Velocity (cm hr<tspan dy="-18.8" font-size="18">-1</tspan><tspan dy="18.8" font-size="24">)</tspan></text>
<text transform="translate(1074,2168) rotate(90)" font-size="27" font-weight="bold">T<tspan dy="6.7" font-size="18">leaf</tspan><tspan dy="-6.7" font-size="24"> (°C)</tspan></text>
<line x1="149.5" y1="2057.8" x2="193.9" y2="2057.8" stroke="#00008c" stroke-width="4.5"/>
<text x="204.4" y="2066" font-size="24">Sap Velocity</text>
<line x1="349.8" y1="2057.8" x2="392.9" y2="2057.8" stroke="#d80000" stroke-width="4.5"/>
<text x="403.2" y="2066" font-size="24">T<tspan dy="5.9" font-size="17">leaf</tspan></text>
<text x="492" y="2067.3" font-size="21.4"><tspan font-style="italic">Lecythis</tspan> sp.</text>
<polyline points="141.5,2343.3 144.0,2342.0 146.5,2347.0 149.0,2349.5 152.7,2350.7 155.2,2349.5 157.7,2350.7 160.2,2344.5 162.7,2337.0 165.2,2332.0 166.9,2329.5 168.4,2304.6 170.2,2297.1 172.7,2272.1 175.2,2277.1 177.7,2279.6 180.2,2274.6 182.7,2267.1 185.2,2267.1 186.9,2247.2 188.4,2239.7 190.9,2232.2 193.4,2214.7 195.1,2199.8 196.9,2179.8 198.4,2167.3 200.1,2169.8 201.4,2173.6 203.4,2167.3 205.1,2159.8 206.9,2152.3 208.4,2159.8 210.1,2169.8 212.6,2172.3 214.4,2194.8 215.9,2222.2 217.6,2259.7 219.4,2297.1 220.8,2324.5 222.6,2329.5 224.3,2330.8 226.3,2328.3 228.3,2329.5 231.3,2334.5 233.8,2339.5 236.3,2344.5 238.8,2347.0 241.3,2348.2 243.8,2350.7 246.3,2359.5 250.0,2363.2 253.8,2367.0 257.5,2369.5 261.3,2372.0 265.0,2373.2 268.8,2373.2 272.5,2372.0 276.3,2370.7 280.0,2367.0 283.7,2365.7 287.5,2364.5 290.0,2364.5 293.7,2363.2 297.5,2364.5 301.2,2365.7 305.0,2365.7 308.7,2369.5 312.4,2373.2 316.2,2372.0 319.9,2373.2 323.7,2374.4 327.4,2373.2 331.2,2376.9 334.9,2380.7 338.6,2383.2 342.4,2376.9 346.1,2373.2 349.9,2372.0 353.6,2369.5 357.4,2365.7 359.9,2362.0 362.4,2360.7 364.8,2357.0 367.3,2349.5 369.1,2339.5 370.6,2322.0 371.6,2304.6 373.1,2309.6 374.8,2304.6 376.6,2284.6 378.6,2264.6 380.6,2234.7 382.3,2194.8 384.1,2222.2 385.6,2257.2 387.3,2222.2 388.6,2174.8 389.8,2209.7 391.1,2219.7 392.3,2184.8 393.5,2179.8 395.5,2189.8 397.3,2182.3 399.0,2169.8 400.5,2177.3 402.3,2197.3 404.0,2204.7 406.0,2182.3 407.8,2164.8 409.8,2159.8 411.0,2134.9 412.0,2129.9 412.5,2134.9 414.5,2159.8 416.2,2162.3 418.0,2157.3 420.0,2154.8 422.5,2153.6 425.0,2152.3 426.5,2122.4 428.0,2104.9 429.9,2094.9 431.9,2102.4 434.4,2107.4 436.9,2112.4 439.4,2113.7 440.4,2139.9 442.4,2144.9 444.4,2142.4 446.2,2122.4 447.9,2124.9 449.9,2122.4 451.9,2129.9 453.7,2139.9 456.2,2129.9 458.6,2137.4 461.1,2144.9 463.6,2159.8 465.4,2184.8 467.4,2209.7 469.9,2229.7 472.4,2242.2 474.9,2254.7 477.4,2264.6 479.9,2269.6 482.4,2274.6 484.9,2277.1 487.3,2282.1 489.8,2287.1 492.3,2292.1 494.8,2298.3 497.3,2303.3 499.8,2307.1 502.8,2313.3 506.1,2315.8 509.3,2317.1 511.1,2322.0 513.6,2322.0 516.0,2319.5 518.5,2323.3 521.0,2323.3 523.5,2324.5 526.0,2325.8 528.5,2324.5 531.0,2327.0 533.5,2323.3 536.0,2328.3 538.5,2325.8 542.3,2323.3 546.0,2324.5 548.5,2325.8 551.0,2332.0 553.5,2337.0 556.0,2334.5 558.5,2334.5 561.0,2338.3 563.5,2337.0 566.0,2335.8 568.5,2334.5 571.0,2339.5 573.4,2345.7 575.9,2349.5 579.2,2349.5 582.2,2347.0 584.7,2342.0 587.2,2334.5 589.7,2322.0 592.2,2299.6 595.9,2297.1 598.4,2294.6 600.9,2282.1 603.4,2272.1 605.9,2259.7 608.4,2249.7 610.9,2244.7 613.4,2245.9 615.1,2249.7 616.6,2284.6 618.1,2322.0 619.6,2355.7 621.6,2339.5 623.4,2329.5 625.9,2322.0 628.4,2309.6 630.8,2292.1 633.3,2274.6 634.6,2259.7 636.6,2272.1 638.3,2294.6 640.1,2314.6 642.1,2334.5 644.1,2344.5 645.8,2342.0 648.3,2339.5 650.8,2329.5 653.3,2319.5 655.8,2312.1 658.3,2304.6 660.8,2294.6 663.3,2279.6 665.8,2259.7 668.3,2244.7 670.8,2239.7 673.3,2237.2 675.8,2234.7 678.0,2233.4 678.7,2235.9 680.0,2238.4 682.5,2243.4 685.0,2238.4 687.5,2244.7 689.9,2252.2 692.4,2257.2 694.4,2269.6 696.9,2279.6 698.7,2289.6 701.2,2302.1 703.7,2312.1 707.4,2314.6 709.9,2313.3 713.7,2315.8 717.4,2314.6 719.9,2318.3 722.4,2317.1 724.9,2314.6 727.4,2317.1 729.9,2320.8 732.4,2323.3 734.9,2325.8 737.4,2328.3 739.9,2330.8 743.6,2333.3 746.1,2332.0 748.6,2322.0 751.8,2314.6 754.3,2313.3 756.1,2317.1 758.6,2320.8 761.1,2324.5 762.8,2334.5 764.8,2347.0 767.3,2359.5 769.8,2362.0 773.6,2362.0 777.3,2363.2 779.8,2364.5 782.3,2365.7 784.8,2362.0 787.3,2358.2 789.8,2354.5 792.3,2352.0 794.8,2349.5 797.3,2347.0 799.8,2342.0 801.0,2337.0 803.5,2337.0 805.2,2344.5 807.2,2352.0 809.7,2354.5 812.7,2352.0 814.7,2347.0 817.2,2329.5 819.7,2309.6 822.2,2297.1 824.7,2289.6 827.2,2287.1 829.7,2277.1 832.2,2279.6 834.7,2274.6 835.9,2259.7 837.2,2227.2 839.7,2222.2 840.9,2199.8 842.7,2179.8 844.7,2189.8 847.2,2179.8 849.7,2174.8 852.2,2167.3 854.2,2169.8 855.9,2204.7 857.7,2209.7 859.7,2184.8 861.1,2144.9 862.6,2149.8 864.1,2157.3 865.9,2164.8 867.6,2209.7 869.1,2264.6 870.9,2307.1 872.6,2284.6 874.6,2234.7 876.6,2184.8 878.4,2159.8 880.9,2149.8 882.9,2124.9 884.6,2112.4 886.1,2122.4 887.6,2134.9 889.6,2164.8 891.6,2209.7 893.3,2259.7 894.6,2297.1 896.6,2292.1 898.3,2282.1 900.3,2277.1 902.1,2279.6 904.6,2272.1 906.6,2269.6 908.3,2274.6 910.1,2279.6 913.3,2282.1 917.1,2284.6 920.8,2289.6 923.3,2299.6 925.8,2309.6 928.3,2317.1 931.5,2317.1 934.5,2313.3 938.3,2319.5 940.8,2322.0 943.3,2323.3 945.8,2322.0 948.3,2320.8 950.8,2322.0 953.3,2323.3 955.8,2324.5 958.3,2327.0 960.8,2328.3 963.8,2329.5 965.8,2333.3 968.3,2335.8 972.0,2338.3 975.8,2342.0 979.5,2345.7 983.2,2349.5 987.0,2349.5 990.7,2349.5 994.5,2348.2 998.2,2350.7 1002.0,2352.0 1005.7,2350.7 1009.4,2353.2 1011.4,2354.0" fill="none" stroke="#d80000" stroke-width="4.8" stroke-linejoin="round" stroke-linecap="butt"/>
<polyline points="141.5,2368.2 145.2,2365.7 149.5,2364.5 152.7,2373.2 155.2,2369.5 157.7,2370.7 160.2,2374.4 163.9,2373.2 166.4,2368.2 168.9,2359.5 170.9,2352.0 172.7,2329.5 174.4,2299.6 176.4,2264.6 178.4,2234.7 180.9,2204.7 183.4,2169.8 185.2,2152.3 186.9,2154.8 188.4,2159.8 190.2,2149.8 192.6,2134.9 194.4,2104.9 196.4,2087.5 198.4,2081.2 200.9,2085.0 203.4,2087.5 206.4,2083.7 208.4,2085.0 210.1,2089.9 211.9,2094.9 214.4,2093.7 216.4,2097.4 217.9,2104.9 219.4,2127.4 220.8,2154.8 221.8,2184.8 222.8,2214.7 224.3,2259.7 225.8,2284.6 227.6,2307.1 230.1,2324.5 232.6,2337.0 235.1,2344.5 238.8,2349.5 242.6,2353.2 246.3,2358.2 250.0,2358.2 253.8,2359.5 257.5,2358.2 261.3,2362.0 265.0,2362.0 268.8,2364.5 272.5,2363.2 275.0,2368.2 278.7,2365.7 282.5,2364.5 286.2,2364.5 288.7,2367.0 291.2,2369.5 293.7,2365.7 296.2,2367.0 300.0,2369.5 303.7,2368.2 307.4,2370.7 311.2,2372.0 313.7,2368.2 317.4,2367.0 319.9,2370.7 323.7,2370.7 327.4,2369.5 331.2,2370.7 334.9,2368.2 338.6,2370.7 342.4,2370.7 346.1,2370.7 349.9,2369.5 353.1,2376.9 356.1,2370.7 359.9,2368.2 362.4,2373.2 364.8,2374.4 367.3,2372.0 369.8,2370.7 371.6,2359.5 373.1,2342.0 374.8,2322.0 376.6,2297.1 378.1,2259.7 379.8,2204.7 381.1,2164.8 382.3,2127.4 383.6,2112.4 384.8,2134.9 386.1,2152.3 387.3,2132.4 388.6,2109.9 389.8,2114.9 392.3,2117.4 394.8,2109.9 397.3,2089.9 398.5,2085.0 400.3,2094.9 402.3,2097.4 404.8,2104.9 407.3,2089.9 409.8,2080.0 412.0,2077.5 412.5,2080.0 415.0,2082.5 417.5,2081.2 420.0,2085.0 422.5,2087.5 426.2,2088.7 429.4,2086.2 431.9,2088.7 434.4,2093.7 436.9,2096.2 439.4,2099.9 441.9,2097.4 443.7,2103.7 446.2,2109.9 448.7,2116.2 451.2,2121.1 453.7,2121.1 456.2,2132.4 458.6,2142.4 461.1,2154.8 463.6,2172.3 465.6,2192.3 467.4,2214.7 469.1,2239.7 471.1,2259.7 473.6,2279.6 476.1,2297.1 479.4,2302.1 482.4,2312.1 486.1,2314.6 489.8,2317.1 493.6,2320.8 497.3,2325.8 501.1,2329.5 504.8,2333.3 508.6,2337.0 512.3,2339.5 515.3,2338.3 518.5,2342.0 522.3,2344.5 524.8,2339.5 527.3,2345.7 529.8,2348.2 533.5,2347.0 537.3,2348.2 541.0,2349.5 544.7,2352.0 548.5,2354.5 552.2,2355.7 556.0,2354.5 559.7,2357.0 563.5,2355.7 567.2,2357.0 571.0,2355.7 574.7,2357.0 578.4,2358.2 582.2,2360.7 585.9,2357.0 589.7,2353.2 591.7,2334.5 593.4,2309.6 595.2,2284.6 597.2,2259.7 599.7,2234.7 601.6,2212.2 603.4,2204.7 605.1,2192.3 607.1,2169.8 609.1,2149.8 610.9,2141.1 612.6,2149.8 614.6,2147.3 616.1,2144.9 617.6,2154.8 619.1,2169.8 620.4,2197.3 621.6,2234.7 622.9,2272.1 624.1,2299.6 625.4,2324.5 627.1,2324.5 629.6,2323.3 631.6,2319.5 633.3,2259.7 634.6,2212.2 636.1,2234.7 637.6,2274.6 639.6,2304.6 642.1,2327.0 644.6,2337.0 647.1,2344.5 649.6,2347.0 652.1,2343.3 654.6,2334.5 657.1,2322.0 659.0,2292.1 660.8,2259.7 662.5,2229.7 664.5,2194.8 666.5,2169.8 668.3,2154.8 670.8,2134.9 673.3,2128.6 675.8,2126.1 678.0,2124.9 678.7,2128.6 680.0,2129.9 682.0,2139.9 683.7,2146.1 686.2,2149.8 688.7,2159.8 691.2,2177.3 693.7,2192.3 695.4,2222.2 697.4,2249.7 699.9,2279.6 702.4,2307.1 704.9,2324.5 707.4,2334.5 709.9,2339.5 712.4,2342.0 716.2,2343.3 719.9,2348.2 723.6,2345.7 727.4,2348.2 731.1,2349.5 734.9,2349.5 738.6,2353.2 742.4,2354.5 746.1,2355.7 749.8,2358.2 753.6,2359.5 757.3,2354.5 761.1,2355.7 764.8,2357.0 768.6,2357.0 772.3,2359.5 776.0,2359.5 778.5,2357.0 781.0,2359.5 783.5,2362.0 787.3,2364.5 791.0,2360.7 794.8,2358.2 798.5,2357.0 801.0,2357.0 803.5,2354.5 807.2,2355.7 811.0,2354.5 814.2,2353.2 816.7,2357.0 818.5,2347.0 820.2,2322.0 822.2,2289.6 824.2,2254.7 826.7,2229.7 829.2,2214.7 832.2,2209.7 834.7,2184.8 836.7,2147.3 838.4,2122.4 840.9,2101.2 843.4,2102.4 845.9,2107.4 848.4,2098.7 851.7,2097.4 854.7,2096.2 857.7,2099.9 859.7,2117.4 861.6,2102.4 864.1,2098.7 866.6,2099.9 869.1,2104.9 870.9,2134.9 872.6,2172.3 874.1,2209.7 875.4,2229.7 876.6,2197.3 877.9,2159.8 879.1,2129.9 880.9,2113.7 883.4,2104.9 885.9,2101.2 888.4,2109.9 890.1,2099.9 892.1,2119.9 894.1,2154.8 895.8,2197.3 897.6,2234.7 899.6,2272.1 901.6,2299.6 903.3,2317.1 905.8,2329.5 908.3,2334.5 910.8,2335.8 913.3,2337.0 915.8,2329.5 918.3,2327.0 920.8,2324.5 923.3,2328.3 925.8,2333.3 928.3,2337.0 932.0,2340.8 935.8,2344.5 938.3,2349.5 940.8,2352.0 943.3,2353.2 945.8,2355.7 948.3,2358.2 950.8,2358.2 953.3,2360.7 955.8,2362.0 958.3,2357.0 960.8,2362.0 963.3,2363.2 965.8,2362.0 968.3,2364.5 972.0,2364.5 975.8,2365.7 979.5,2367.0 983.2,2368.2 987.0,2367.0 990.7,2368.2 994.5,2368.2 998.2,2367.0 1000.7,2369.5 1003.7,2370.7 1007.0,2367.0 1009.9,2369.5 1011.9,2370.0" fill="none" stroke="#00008c" stroke-width="4.8" stroke-linejoin="round" stroke-linecap="butt"/>
</svg></body></html>
